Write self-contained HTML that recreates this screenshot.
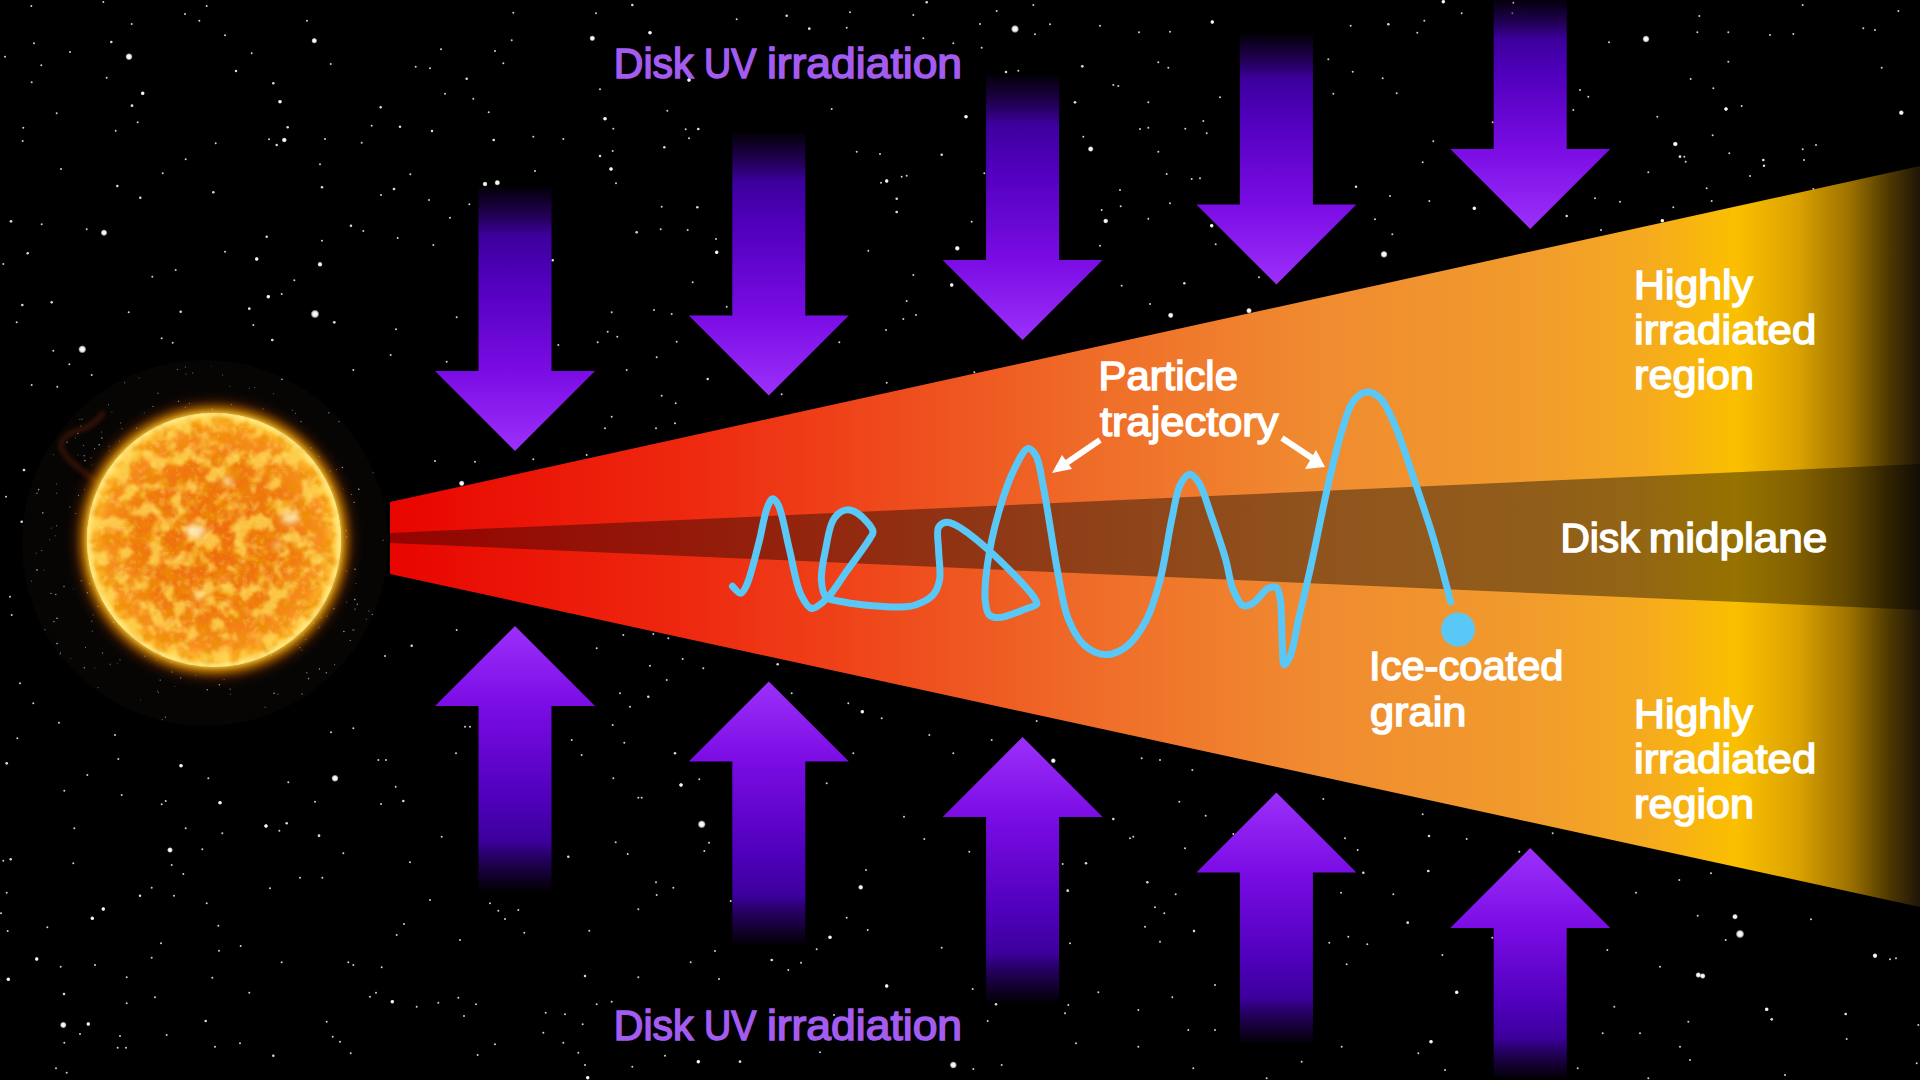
<!DOCTYPE html>
<html><head><meta charset="utf-8"><style>
html,body{margin:0;padding:0;background:#000;width:1920px;height:1080px;overflow:hidden}
svg{display:block}
text{font-family:"Liberation Sans",sans-serif;font-weight:normal}
</style></head><body>
<svg width="1920" height="1080" viewBox="0 0 1920 1080">
<defs>
<linearGradient id="gd0" gradientUnits="userSpaceOnUse" x1="0" y1="188.0" x2="0" y2="451.0">
<stop offset="0.0000" stop-color="#200050" stop-opacity="0.15"/>
<stop offset="0.0626" stop-color="#280064" stop-opacity="0.55"/>
<stop offset="0.1809" stop-color="#3c009c" stop-opacity="1"/>
<stop offset="0.3479" stop-color="#5000bc" stop-opacity="1"/>
<stop offset="0.6958" stop-color="#7a0ce4" stop-opacity="1"/>
<stop offset="1.0000" stop-color="#9c30fa" stop-opacity="1"/>
</linearGradient>
<linearGradient id="gu0" gradientUnits="userSpaceOnUse" x1="0" y1="889.0" x2="0" y2="626.0">
<stop offset="0.0000" stop-color="#200050" stop-opacity="0.15"/>
<stop offset="0.0626" stop-color="#280064" stop-opacity="0.55"/>
<stop offset="0.1809" stop-color="#3c009c" stop-opacity="1"/>
<stop offset="0.3479" stop-color="#5000bc" stop-opacity="1"/>
<stop offset="0.6958" stop-color="#7a0ce4" stop-opacity="1"/>
<stop offset="1.0000" stop-color="#9c30fa" stop-opacity="1"/>
</linearGradient><linearGradient id="gd1" gradientUnits="userSpaceOnUse" x1="0" y1="133.5" x2="0" y2="395.5">
<stop offset="0.0000" stop-color="#200050" stop-opacity="0.15"/>
<stop offset="0.0625" stop-color="#280064" stop-opacity="0.55"/>
<stop offset="0.1806" stop-color="#3c009c" stop-opacity="1"/>
<stop offset="0.3473" stop-color="#5000bc" stop-opacity="1"/>
<stop offset="0.6947" stop-color="#7a0ce4" stop-opacity="1"/>
<stop offset="1.0000" stop-color="#9c30fa" stop-opacity="1"/>
</linearGradient>
<linearGradient id="gu1" gradientUnits="userSpaceOnUse" x1="0" y1="943.5" x2="0" y2="681.5">
<stop offset="0.0000" stop-color="#200050" stop-opacity="0.15"/>
<stop offset="0.0625" stop-color="#280064" stop-opacity="0.55"/>
<stop offset="0.1806" stop-color="#3c009c" stop-opacity="1"/>
<stop offset="0.3473" stop-color="#5000bc" stop-opacity="1"/>
<stop offset="0.6947" stop-color="#7a0ce4" stop-opacity="1"/>
<stop offset="1.0000" stop-color="#9c30fa" stop-opacity="1"/>
</linearGradient><linearGradient id="gd2" gradientUnits="userSpaceOnUse" x1="0" y1="76.0" x2="0" y2="340.0">
<stop offset="0.0000" stop-color="#200050" stop-opacity="0.15"/>
<stop offset="0.0627" stop-color="#280064" stop-opacity="0.55"/>
<stop offset="0.1812" stop-color="#3c009c" stop-opacity="1"/>
<stop offset="0.3485" stop-color="#5000bc" stop-opacity="1"/>
<stop offset="0.6970" stop-color="#7a0ce4" stop-opacity="1"/>
<stop offset="1.0000" stop-color="#9c30fa" stop-opacity="1"/>
</linearGradient>
<linearGradient id="gu2" gradientUnits="userSpaceOnUse" x1="0" y1="1001.0" x2="0" y2="737.0">
<stop offset="0.0000" stop-color="#200050" stop-opacity="0.15"/>
<stop offset="0.0627" stop-color="#280064" stop-opacity="0.55"/>
<stop offset="0.1812" stop-color="#3c009c" stop-opacity="1"/>
<stop offset="0.3485" stop-color="#5000bc" stop-opacity="1"/>
<stop offset="0.6970" stop-color="#7a0ce4" stop-opacity="1"/>
<stop offset="1.0000" stop-color="#9c30fa" stop-opacity="1"/>
</linearGradient><linearGradient id="gd3" gradientUnits="userSpaceOnUse" x1="0" y1="34.5" x2="0" y2="284.5">
<stop offset="0.0000" stop-color="#200050" stop-opacity="0.15"/>
<stop offset="0.0612" stop-color="#280064" stop-opacity="0.55"/>
<stop offset="0.1768" stop-color="#3c009c" stop-opacity="1"/>
<stop offset="0.3400" stop-color="#5000bc" stop-opacity="1"/>
<stop offset="0.6800" stop-color="#7a0ce4" stop-opacity="1"/>
<stop offset="1.0000" stop-color="#9c30fa" stop-opacity="1"/>
</linearGradient>
<linearGradient id="gu3" gradientUnits="userSpaceOnUse" x1="0" y1="1042.5" x2="0" y2="792.5">
<stop offset="0.0000" stop-color="#200050" stop-opacity="0.15"/>
<stop offset="0.0612" stop-color="#280064" stop-opacity="0.55"/>
<stop offset="0.1768" stop-color="#3c009c" stop-opacity="1"/>
<stop offset="0.3400" stop-color="#5000bc" stop-opacity="1"/>
<stop offset="0.6800" stop-color="#7a0ce4" stop-opacity="1"/>
<stop offset="1.0000" stop-color="#9c30fa" stop-opacity="1"/>
</linearGradient><linearGradient id="gd4" gradientUnits="userSpaceOnUse" x1="0" y1="0.0" x2="0" y2="229.0">
<stop offset="0.0000" stop-color="#200050" stop-opacity="0.15"/>
<stop offset="0.0586" stop-color="#280064" stop-opacity="0.55"/>
<stop offset="0.1692" stop-color="#3c009c" stop-opacity="1"/>
<stop offset="0.3253" stop-color="#5000bc" stop-opacity="1"/>
<stop offset="0.6507" stop-color="#7a0ce4" stop-opacity="1"/>
<stop offset="1.0000" stop-color="#9c30fa" stop-opacity="1"/>
</linearGradient>
<linearGradient id="gu4" gradientUnits="userSpaceOnUse" x1="0" y1="1077.0" x2="0" y2="848.0">
<stop offset="0.0000" stop-color="#200050" stop-opacity="0.15"/>
<stop offset="0.0586" stop-color="#280064" stop-opacity="0.55"/>
<stop offset="0.1692" stop-color="#3c009c" stop-opacity="1"/>
<stop offset="0.3253" stop-color="#5000bc" stop-opacity="1"/>
<stop offset="0.6507" stop-color="#7a0ce4" stop-opacity="1"/>
<stop offset="1.0000" stop-color="#9c30fa" stop-opacity="1"/>
</linearGradient>
<radialGradient id="sg"><stop offset="0" stop-color="#fff"/><stop offset="0.5" stop-color="#f0f0f0"/><stop offset="0.7" stop-color="#ddd" stop-opacity="0.8"/><stop offset="1" stop-color="#bbb" stop-opacity="0"/></radialGradient>
<linearGradient id="wg" gradientUnits="userSpaceOnUse" x1="390" y1="0" x2="1920" y2="0">
<stop offset="0" stop-color="#e80500"/>
<stop offset="0.2" stop-color="#ee2a10"/>
<stop offset="0.45" stop-color="#ef6a28"/>
<stop offset="0.6" stop-color="#f08a30"/>
<stop offset="0.75" stop-color="#f19c2c"/>
<stop offset="0.82" stop-color="#f5aa20"/>
<stop offset="0.88" stop-color="#fbbf00"/>
<stop offset="0.92" stop-color="#dba200"/>
<stop offset="0.955" stop-color="#9a7000"/>
<stop offset="0.98" stop-color="#4e3800"/>
<stop offset="1" stop-color="#1e1508"/>
</linearGradient>
<linearGradient id="mg" gradientUnits="userSpaceOnUse" x1="390" y1="0" x2="1920" y2="0">
<stop offset="0" stop-color="#000" stop-opacity="0.36"/>
<stop offset="0.4" stop-color="#000" stop-opacity="0.40"/>
<stop offset="1" stop-color="#000" stop-opacity="0.40"/>
</linearGradient>
<radialGradient id="sung" cx="214" cy="540" r="128" gradientUnits="userSpaceOnUse">
<stop offset="0" stop-color="#ee6c0c"/>
<stop offset="0.6" stop-color="#f07810"/>
<stop offset="0.85" stop-color="#f89020"/>
<stop offset="0.95" stop-color="#ffc030"/>
<stop offset="1" stop-color="#ffe860"/>
</radialGradient>
<radialGradient id="glow" cx="214" cy="540" r="150" gradientUnits="userSpaceOnUse">
<stop offset="0.83" stop-color="#ffe050" stop-opacity="1"/>
<stop offset="0.88" stop-color="#f09000" stop-opacity="0.6"/>
<stop offset="0.94" stop-color="#803000" stop-opacity="0.2"/>
<stop offset="1" stop-color="#200800" stop-opacity="0"/>
</radialGradient>
<filter id="tex" x="0" y="0" width="100%" height="100%">
<feTurbulence type="fractalNoise" baseFrequency="0.06" numOctaves="5" seed="5"/>
<feColorMatrix type="matrix" values="0 0 0 0 1  0 0 0 0 0.72  0 0 0 0 0.10  5 0 0 0 -2.35"/>
<feGaussianBlur stdDeviation="0.9"/>
</filter>
<filter id="tex2" x="0" y="0" width="100%" height="100%">
<feTurbulence type="fractalNoise" baseFrequency="0.09" numOctaves="3" seed="11"/>
<feColorMatrix type="matrix" values="0 0 0 0 0.84  0 0 0 0 0.28  0 0 0 0 0.0  4 0 0 0 -1.7"/>
<feGaussianBlur stdDeviation="0.8"/>
</filter>
<filter id="tex3" x="0" y="0" width="100%" height="100%">
<feTurbulence type="turbulence" baseFrequency="0.12" numOctaves="3" seed="21"/>
<feColorMatrix type="matrix" values="0 0 0 0 1  0 0 0 0 0.85  0 0 0 0 0.35  4 0 0 0 -1.3"/>
</filter>
<filter id="blur3"><feGaussianBlur stdDeviation="3"/></filter><filter id="blur2"><feGaussianBlur stdDeviation="2"/></filter><filter id="blur1"><feGaussianBlur stdDeviation="1"/></filter>
<filter id="blur6"><feGaussianBlur stdDeviation="6"/></filter>
<clipPath id="sunclip"><circle cx="214" cy="540" r="127"/></clipPath>
</defs>
<rect width="1920" height="1080" fill="#000"/>
<circle cx="205" cy="543" r="183" fill="#070503"/>
<circle cx="129.0" cy="56.7" r="3.75" fill="url(#sg)"/>
<circle cx="314.3" cy="40.7" r="3.00" fill="url(#sg)"/>
<circle cx="592.3" cy="38.3" r="3.00" fill="url(#sg)"/>
<circle cx="142.7" cy="93.3" r="2.25" fill="url(#sg)"/>
<circle cx="132.0" cy="105.7" r="1.37" fill="#f4f4f4" opacity="0.9"/>
<circle cx="280.0" cy="101.7" r="2.25" fill="url(#sg)"/>
<circle cx="284.3" cy="140.0" r="2.70" fill="url(#sg)"/>
<circle cx="276.7" cy="145.0" r="1.26" fill="#f4f4f4" opacity="0.9"/>
<circle cx="287.7" cy="127.3" r="1.26" fill="#f4f4f4" opacity="0.9"/>
<circle cx="497.3" cy="182.7" r="3.00" fill="url(#sg)"/>
<circle cx="485.0" cy="184.0" r="2.70" fill="url(#sg)"/>
<circle cx="605.0" cy="118.7" r="2.25" fill="url(#sg)"/>
<circle cx="611.0" cy="169.0" r="2.25" fill="url(#sg)"/>
<circle cx="104.0" cy="232.7" r="3.45" fill="url(#sg)"/>
<circle cx="315.0" cy="314.0" r="4.50" fill="url(#sg)"/>
<circle cx="82.3" cy="349.3" r="4.20" fill="url(#sg)"/>
<circle cx="320.0" cy="264.3" r="2.70" fill="url(#sg)"/>
<circle cx="256.7" cy="259.0" r="2.25" fill="url(#sg)"/>
<circle cx="268.3" cy="296.7" r="2.25" fill="url(#sg)"/>
<circle cx="249.3" cy="308.7" r="1.37" fill="#f4f4f4" opacity="0.9"/>
<circle cx="334.3" cy="322.3" r="1.37" fill="#f4f4f4" opacity="0.9"/>
<circle cx="272.3" cy="340.0" r="1.37" fill="#f4f4f4" opacity="0.9"/>
<circle cx="11.0" cy="221.3" r="1.37" fill="#f4f4f4" opacity="0.9"/>
<circle cx="27.7" cy="253.3" r="1.26" fill="#f4f4f4" opacity="0.9"/>
<circle cx="22.3" cy="305.0" r="1.26" fill="#f4f4f4" opacity="0.9"/>
<circle cx="51.7" cy="302.3" r="1.26" fill="#f4f4f4" opacity="0.9"/>
<circle cx="180.7" cy="311.7" r="1.26" fill="#f4f4f4" opacity="0.9"/>
<circle cx="380.7" cy="107.3" r="1.26" fill="#f4f4f4" opacity="0.9"/>
<circle cx="466.7" cy="78.7" r="1.26" fill="#f4f4f4" opacity="0.9"/>
<circle cx="493.7" cy="140.0" r="1.37" fill="#f4f4f4" opacity="0.9"/>
<circle cx="394.0" cy="189.0" r="1.37" fill="#f4f4f4" opacity="0.9"/>
<circle cx="322.0" cy="187.3" r="1.26" fill="#f4f4f4" opacity="0.9"/>
<circle cx="213.3" cy="192.3" r="1.26" fill="#f4f4f4" opacity="0.9"/>
<circle cx="140.3" cy="197.7" r="1.26" fill="#f4f4f4" opacity="0.9"/>
<circle cx="117.3" cy="186.0" r="1.26" fill="#f4f4f4" opacity="0.9"/>
<circle cx="432.0" cy="131.0" r="1.26" fill="#f4f4f4" opacity="0.9"/>
<circle cx="400.0" cy="126.7" r="1.26" fill="#f4f4f4" opacity="0.9"/>
<circle cx="273.3" cy="83.3" r="1.26" fill="#f4f4f4" opacity="0.9"/>
<circle cx="236.0" cy="71.0" r="1.26" fill="#f4f4f4" opacity="0.9"/>
<circle cx="111.3" cy="42.0" r="1.26" fill="#f4f4f4" opacity="0.9"/>
<circle cx="31.3" cy="6.0" r="1" fill="#f4f4f4" opacity="0.85"/>
<circle cx="103.3" cy="2.0" r="1" fill="#f4f4f4" opacity="0.85"/>
<circle cx="131.7" cy="24.0" r="1" fill="#f4f4f4" opacity="0.85"/>
<circle cx="185.0" cy="14.0" r="1" fill="#f4f4f4" opacity="0.85"/>
<circle cx="206.7" cy="6.0" r="1" fill="#f4f4f4" opacity="0.85"/>
<circle cx="199.3" cy="20.7" r="1" fill="#f4f4f4" opacity="0.85"/>
<circle cx="225.0" cy="35.3" r="1" fill="#f4f4f4" opacity="0.85"/>
<circle cx="251.7" cy="53.3" r="1" fill="#f4f4f4" opacity="0.85"/>
<circle cx="307.0" cy="20.7" r="1" fill="#f4f4f4" opacity="0.85"/>
<circle cx="330.7" cy="64.0" r="1" fill="#f4f4f4" opacity="0.85"/>
<circle cx="415.7" cy="66.7" r="1" fill="#f4f4f4" opacity="0.85"/>
<circle cx="430.0" cy="68.3" r="1" fill="#f4f4f4" opacity="0.85"/>
<circle cx="441.0" cy="49.3" r="1" fill="#f4f4f4" opacity="0.85"/>
<circle cx="495.0" cy="51.0" r="1" fill="#f4f4f4" opacity="0.85"/>
<circle cx="511.7" cy="40.3" r="1" fill="#f4f4f4" opacity="0.85"/>
<circle cx="513.3" cy="12.7" r="1" fill="#f4f4f4" opacity="0.85"/>
<circle cx="596.0" cy="13.3" r="1" fill="#f4f4f4" opacity="0.85"/>
<circle cx="632.3" cy="5.0" r="1.26" fill="#f4f4f4" opacity="0.9"/>
<circle cx="473.3" cy="98.7" r="1" fill="#f4f4f4" opacity="0.85"/>
<circle cx="445.0" cy="93.7" r="1" fill="#f4f4f4" opacity="0.85"/>
<circle cx="488.7" cy="112.3" r="1" fill="#f4f4f4" opacity="0.85"/>
<circle cx="533.3" cy="136.7" r="1" fill="#f4f4f4" opacity="0.85"/>
<circle cx="563.3" cy="139.0" r="1" fill="#f4f4f4" opacity="0.85"/>
<circle cx="600.0" cy="89.3" r="1" fill="#f4f4f4" opacity="0.85"/>
<circle cx="600.0" cy="156.0" r="1.26" fill="#f4f4f4" opacity="0.9"/>
<circle cx="613.3" cy="128.7" r="1" fill="#f4f4f4" opacity="0.85"/>
<circle cx="552.7" cy="260.3" r="1.26" fill="#f4f4f4" opacity="0.9"/>
<circle cx="636.7" cy="232.3" r="1.26" fill="#f4f4f4" opacity="0.9"/>
<circle cx="450.0" cy="217.7" r="1" fill="#f4f4f4" opacity="0.85"/>
<circle cx="429.0" cy="200.0" r="1" fill="#f4f4f4" opacity="0.85"/>
<circle cx="410.3" cy="174.3" r="1" fill="#f4f4f4" opacity="0.85"/>
<circle cx="351.0" cy="225.7" r="1.26" fill="#f4f4f4" opacity="0.9"/>
<circle cx="363.3" cy="231.0" r="1" fill="#f4f4f4" opacity="0.85"/>
<circle cx="361.7" cy="142.7" r="1" fill="#f4f4f4" opacity="0.85"/>
<circle cx="325.0" cy="139.0" r="1" fill="#f4f4f4" opacity="0.85"/>
<circle cx="320.0" cy="164.3" r="1" fill="#f4f4f4" opacity="0.85"/>
<circle cx="266.7" cy="236.7" r="1.26" fill="#f4f4f4" opacity="0.9"/>
<circle cx="225.0" cy="251.7" r="1" fill="#f4f4f4" opacity="0.85"/>
<circle cx="175.7" cy="270.0" r="1" fill="#f4f4f4" opacity="0.85"/>
<circle cx="152.3" cy="276.7" r="1" fill="#f4f4f4" opacity="0.85"/>
<circle cx="128.7" cy="312.3" r="1" fill="#f4f4f4" opacity="0.85"/>
<circle cx="161.7" cy="338.3" r="1" fill="#f4f4f4" opacity="0.85"/>
<circle cx="172.7" cy="342.7" r="1" fill="#f4f4f4" opacity="0.85"/>
<circle cx="53.3" cy="350.7" r="1" fill="#f4f4f4" opacity="0.85"/>
<circle cx="16.7" cy="322.3" r="1" fill="#f4f4f4" opacity="0.85"/>
<circle cx="3.3" cy="264.0" r="1" fill="#f4f4f4" opacity="0.85"/>
<circle cx="41.7" cy="224.3" r="1" fill="#f4f4f4" opacity="0.85"/>
<circle cx="86.7" cy="229.3" r="1" fill="#f4f4f4" opacity="0.85"/>
<circle cx="61.0" cy="169.0" r="1" fill="#f4f4f4" opacity="0.85"/>
<circle cx="56.7" cy="113.3" r="1" fill="#f4f4f4" opacity="0.85"/>
<circle cx="23.3" cy="127.7" r="1" fill="#f4f4f4" opacity="0.85"/>
<circle cx="22.7" cy="141.0" r="1" fill="#f4f4f4" opacity="0.85"/>
<circle cx="31.7" cy="82.3" r="1" fill="#f4f4f4" opacity="0.85"/>
<circle cx="41.3" cy="65.3" r="1" fill="#f4f4f4" opacity="0.85"/>
<circle cx="5.0" cy="56.7" r="1" fill="#f4f4f4" opacity="0.85"/>
<circle cx="34.0" cy="43.3" r="1" fill="#f4f4f4" opacity="0.85"/>
<circle cx="70.0" cy="52.0" r="1" fill="#f4f4f4" opacity="0.85"/>
<circle cx="106.7" cy="77.7" r="1" fill="#f4f4f4" opacity="0.85"/>
<circle cx="115.7" cy="130.7" r="1" fill="#f4f4f4" opacity="0.85"/>
<circle cx="137.7" cy="122.3" r="1" fill="#f4f4f4" opacity="0.85"/>
<circle cx="162.7" cy="173.3" r="1" fill="#f4f4f4" opacity="0.85"/>
<circle cx="185.7" cy="159.3" r="1" fill="#f4f4f4" opacity="0.85"/>
<circle cx="215.7" cy="143.3" r="1" fill="#f4f4f4" opacity="0.85"/>
<circle cx="269.0" cy="139.3" r="1" fill="#f4f4f4" opacity="0.85"/>
<circle cx="371.7" cy="125.7" r="1" fill="#f4f4f4" opacity="0.85"/>
<circle cx="381.0" cy="195.0" r="1" fill="#f4f4f4" opacity="0.85"/>
<circle cx="397.7" cy="238.0" r="1" fill="#f4f4f4" opacity="0.85"/>
<circle cx="433.3" cy="245.0" r="1" fill="#f4f4f4" opacity="0.85"/>
<circle cx="322.0" cy="240.7" r="1" fill="#f4f4f4" opacity="0.85"/>
<circle cx="294.3" cy="280.3" r="1" fill="#f4f4f4" opacity="0.85"/>
<circle cx="281.7" cy="294.0" r="1" fill="#f4f4f4" opacity="0.85"/>
<circle cx="253.3" cy="325.0" r="1" fill="#f4f4f4" opacity="0.85"/>
<circle cx="396.0" cy="329.3" r="1" fill="#f4f4f4" opacity="0.85"/>
<circle cx="390.7" cy="355.0" r="1" fill="#f4f4f4" opacity="0.85"/>
<circle cx="456.7" cy="317.3" r="1" fill="#f4f4f4" opacity="0.85"/>
<circle cx="558.3" cy="345.0" r="1" fill="#f4f4f4" opacity="0.85"/>
<circle cx="597.7" cy="342.3" r="1" fill="#f4f4f4" opacity="0.85"/>
<circle cx="617.3" cy="336.7" r="1" fill="#f4f4f4" opacity="0.85"/>
<circle cx="607.7" cy="331.7" r="1" fill="#f4f4f4" opacity="0.85"/>
<circle cx="611.7" cy="312.3" r="1" fill="#f4f4f4" opacity="0.85"/>
<circle cx="616.0" cy="183.3" r="1" fill="#f4f4f4" opacity="0.85"/>
<circle cx="612.7" cy="151.0" r="1" fill="#f4f4f4" opacity="0.85"/>
<circle cx="535.0" cy="171.0" r="1" fill="#f4f4f4" opacity="0.85"/>
<circle cx="503.3" cy="63.3" r="1" fill="#f4f4f4" opacity="0.85"/>
<circle cx="469.3" cy="204.3" r="1" fill="#f4f4f4" opacity="0.85"/>
<circle cx="1015.0" cy="29.0" r="4.20" fill="url(#sg)"/>
<circle cx="650.0" cy="32.7" r="2.25" fill="url(#sg)"/>
<circle cx="809.3" cy="28.7" r="1.37" fill="#f4f4f4" opacity="0.9"/>
<circle cx="786.7" cy="15.7" r="1.26" fill="#f4f4f4" opacity="0.9"/>
<circle cx="966.0" cy="116.7" r="2.25" fill="url(#sg)"/>
<circle cx="1090.7" cy="149.0" r="3.00" fill="url(#sg)"/>
<circle cx="1105.7" cy="221.0" r="2.70" fill="url(#sg)"/>
<circle cx="957.3" cy="248.3" r="2.70" fill="url(#sg)"/>
<circle cx="886.7" cy="181.0" r="2.25" fill="url(#sg)"/>
<circle cx="896.7" cy="212.0" r="1.37" fill="#f4f4f4" opacity="0.9"/>
<circle cx="896.7" cy="198.7" r="1.26" fill="#f4f4f4" opacity="0.9"/>
<circle cx="716.7" cy="252.3" r="2.25" fill="url(#sg)"/>
<circle cx="698.3" cy="129.0" r="1.37" fill="#f4f4f4" opacity="0.9"/>
<circle cx="664.3" cy="147.3" r="1.26" fill="#f4f4f4" opacity="0.9"/>
<circle cx="685.7" cy="129.3" r="1" fill="#f4f4f4" opacity="0.85"/>
<circle cx="689.0" cy="138.3" r="1" fill="#f4f4f4" opacity="0.85"/>
<circle cx="667.3" cy="110.7" r="1" fill="#f4f4f4" opacity="0.85"/>
<circle cx="689.0" cy="80.0" r="2.25" fill="url(#sg)"/>
<circle cx="1006.0" cy="72.0" r="1.26" fill="#f4f4f4" opacity="0.9"/>
<circle cx="1082.3" cy="66.3" r="1.37" fill="#f4f4f4" opacity="0.9"/>
<circle cx="1075.0" cy="102.3" r="1.37" fill="#f4f4f4" opacity="0.9"/>
<circle cx="1211.7" cy="225.7" r="2.25" fill="url(#sg)"/>
<circle cx="1212.3" cy="22.0" r="2.25" fill="url(#sg)"/>
<circle cx="1170.7" cy="315.3" r="3.00" fill="url(#sg)"/>
<circle cx="1249.0" cy="310.7" r="3.00" fill="url(#sg)"/>
<circle cx="951.7" cy="285.0" r="2.25" fill="url(#sg)"/>
<circle cx="941.7" cy="154.7" r="1.26" fill="#f4f4f4" opacity="0.9"/>
<circle cx="926.7" cy="2.3" r="1.26" fill="#f4f4f4" opacity="0.9"/>
<circle cx="1184.3" cy="283.3" r="1.26" fill="#f4f4f4" opacity="0.9"/>
<circle cx="1150.0" cy="304.0" r="1" fill="#f4f4f4" opacity="0.85"/>
<circle cx="1121.7" cy="285.7" r="1" fill="#f4f4f4" opacity="0.85"/>
<circle cx="1100.0" cy="245.7" r="1" fill="#f4f4f4" opacity="0.85"/>
<circle cx="1120.7" cy="206.3" r="1" fill="#f4f4f4" opacity="0.85"/>
<circle cx="1148.3" cy="218.7" r="1" fill="#f4f4f4" opacity="0.85"/>
<circle cx="1185.3" cy="128.7" r="1" fill="#f4f4f4" opacity="0.85"/>
<circle cx="1203.3" cy="121.0" r="1" fill="#f4f4f4" opacity="0.85"/>
<circle cx="1206.7" cy="133.3" r="1" fill="#f4f4f4" opacity="0.85"/>
<circle cx="1220.0" cy="97.3" r="1" fill="#f4f4f4" opacity="0.85"/>
<circle cx="1200.0" cy="178.3" r="1" fill="#f4f4f4" opacity="0.85"/>
<circle cx="1148.3" cy="102.3" r="1" fill="#f4f4f4" opacity="0.85"/>
<circle cx="1170.0" cy="31.7" r="1" fill="#f4f4f4" opacity="0.85"/>
<circle cx="1139.0" cy="32.3" r="1" fill="#f4f4f4" opacity="0.85"/>
<circle cx="1100.0" cy="25.7" r="1" fill="#f4f4f4" opacity="0.85"/>
<circle cx="1050.0" cy="24.3" r="1" fill="#f4f4f4" opacity="0.85"/>
<circle cx="1035.0" cy="34.3" r="1" fill="#f4f4f4" opacity="0.85"/>
<circle cx="980.0" cy="24.0" r="1" fill="#f4f4f4" opacity="0.85"/>
<circle cx="996.7" cy="11.0" r="1" fill="#f4f4f4" opacity="0.85"/>
<circle cx="1033.3" cy="5.0" r="1" fill="#f4f4f4" opacity="0.85"/>
<circle cx="923.3" cy="38.3" r="1" fill="#f4f4f4" opacity="0.85"/>
<circle cx="953.3" cy="43.3" r="1" fill="#f4f4f4" opacity="0.85"/>
<circle cx="981.7" cy="47.7" r="1" fill="#f4f4f4" opacity="0.85"/>
<circle cx="1018.3" cy="70.7" r="1" fill="#f4f4f4" opacity="0.85"/>
<circle cx="1158.3" cy="62.3" r="1" fill="#f4f4f4" opacity="0.85"/>
<circle cx="1168.3" cy="67.7" r="1" fill="#f4f4f4" opacity="0.85"/>
<circle cx="1140.0" cy="129.0" r="1" fill="#f4f4f4" opacity="0.85"/>
<circle cx="1148.3" cy="127.7" r="1" fill="#f4f4f4" opacity="0.85"/>
<circle cx="1158.3" cy="151.7" r="1" fill="#f4f4f4" opacity="0.85"/>
<circle cx="913.3" cy="15.0" r="1" fill="#f4f4f4" opacity="0.85"/>
<circle cx="850.0" cy="12.3" r="1" fill="#f4f4f4" opacity="0.85"/>
<circle cx="846.7" cy="27.7" r="1" fill="#f4f4f4" opacity="0.85"/>
<circle cx="736.7" cy="19.3" r="1" fill="#f4f4f4" opacity="0.85"/>
<circle cx="831.7" cy="109.0" r="1" fill="#f4f4f4" opacity="0.85"/>
<circle cx="880.0" cy="154.0" r="1" fill="#f4f4f4" opacity="0.85"/>
<circle cx="856.7" cy="151.7" r="1" fill="#f4f4f4" opacity="0.85"/>
<circle cx="906.7" cy="175.7" r="1" fill="#f4f4f4" opacity="0.85"/>
<circle cx="901.7" cy="176.7" r="1" fill="#f4f4f4" opacity="0.85"/>
<circle cx="881.0" cy="182.7" r="1" fill="#f4f4f4" opacity="0.85"/>
<circle cx="971.7" cy="221.7" r="1" fill="#f4f4f4" opacity="0.85"/>
<circle cx="984.3" cy="173.3" r="1" fill="#f4f4f4" opacity="0.85"/>
<circle cx="868.3" cy="250.7" r="1" fill="#f4f4f4" opacity="0.85"/>
<circle cx="913.3" cy="275.0" r="1" fill="#f4f4f4" opacity="0.85"/>
<circle cx="906.7" cy="301.0" r="1" fill="#f4f4f4" opacity="0.85"/>
<circle cx="916.0" cy="315.0" r="1" fill="#f4f4f4" opacity="0.85"/>
<circle cx="903.3" cy="319.0" r="1" fill="#f4f4f4" opacity="0.85"/>
<circle cx="886.0" cy="330.0" r="1" fill="#f4f4f4" opacity="0.85"/>
<circle cx="839.3" cy="342.3" r="1" fill="#f4f4f4" opacity="0.85"/>
<circle cx="1101.7" cy="210.0" r="1" fill="#f4f4f4" opacity="0.85"/>
<circle cx="1056.7" cy="146.7" r="1" fill="#f4f4f4" opacity="0.85"/>
<circle cx="1120.0" cy="190.0" r="1" fill="#f4f4f4" opacity="0.85"/>
<circle cx="1166.7" cy="174.0" r="1" fill="#f4f4f4" opacity="0.85"/>
<circle cx="1170.0" cy="203.3" r="1" fill="#f4f4f4" opacity="0.85"/>
<circle cx="1113.3" cy="85.0" r="1" fill="#f4f4f4" opacity="0.85"/>
<circle cx="1118.3" cy="86.0" r="1" fill="#f4f4f4" opacity="0.85"/>
<circle cx="1083.3" cy="136.7" r="1" fill="#f4f4f4" opacity="0.85"/>
<circle cx="1259.0" cy="277.3" r="1" fill="#f4f4f4" opacity="0.85"/>
<circle cx="1263.3" cy="267.3" r="1" fill="#f4f4f4" opacity="0.85"/>
<circle cx="1191.7" cy="179.0" r="1" fill="#f4f4f4" opacity="0.85"/>
<circle cx="1215.7" cy="244.3" r="1" fill="#f4f4f4" opacity="0.85"/>
<circle cx="1256.7" cy="76.7" r="1" fill="#f4f4f4" opacity="0.85"/>
<circle cx="697.3" cy="207.3" r="1.26" fill="#f4f4f4" opacity="0.9"/>
<circle cx="661.7" cy="206.7" r="1" fill="#f4f4f4" opacity="0.85"/>
<circle cx="660.7" cy="229.3" r="1" fill="#f4f4f4" opacity="0.85"/>
<circle cx="687.7" cy="230.0" r="1" fill="#f4f4f4" opacity="0.85"/>
<circle cx="716.0" cy="239.0" r="1" fill="#f4f4f4" opacity="0.85"/>
<circle cx="692.7" cy="282.3" r="1" fill="#f4f4f4" opacity="0.85"/>
<circle cx="654.0" cy="310.0" r="1" fill="#f4f4f4" opacity="0.85"/>
<circle cx="671.7" cy="314.0" r="1" fill="#f4f4f4" opacity="0.85"/>
<circle cx="726.7" cy="306.7" r="1" fill="#f4f4f4" opacity="0.85"/>
<circle cx="656.7" cy="357.3" r="1" fill="#f4f4f4" opacity="0.85"/>
<circle cx="676.7" cy="341.7" r="1" fill="#f4f4f4" opacity="0.85"/>
<circle cx="1646.0" cy="39.0" r="3.75" fill="url(#sg)"/>
<circle cx="1384.0" cy="254.3" r="3.75" fill="url(#sg)"/>
<circle cx="1901.3" cy="112.7" r="2.70" fill="url(#sg)"/>
<circle cx="1675.3" cy="144.0" r="2.70" fill="url(#sg)"/>
<circle cx="1474.3" cy="208.3" r="2.25" fill="url(#sg)"/>
<circle cx="1726.0" cy="109.0" r="2.25" fill="url(#sg)"/>
<circle cx="1680.0" cy="156.7" r="1.37" fill="#f4f4f4" opacity="0.9"/>
<circle cx="1763.3" cy="160.0" r="1.37" fill="#f4f4f4" opacity="0.9"/>
<circle cx="1764.0" cy="165.7" r="1.26" fill="#f4f4f4" opacity="0.9"/>
<circle cx="1662.3" cy="220.7" r="2.25" fill="url(#sg)"/>
<circle cx="1566.7" cy="216.0" r="1.26" fill="#f4f4f4" opacity="0.9"/>
<circle cx="1443.3" cy="1.7" r="2.25" fill="url(#sg)"/>
<circle cx="1388.3" cy="24.3" r="1.26" fill="#f4f4f4" opacity="0.9"/>
<circle cx="1424.3" cy="20.7" r="1" fill="#f4f4f4" opacity="0.85"/>
<circle cx="1417.3" cy="32.7" r="1" fill="#f4f4f4" opacity="0.85"/>
<circle cx="1350.7" cy="25.7" r="1" fill="#f4f4f4" opacity="0.85"/>
<circle cx="1328.3" cy="59.3" r="1" fill="#f4f4f4" opacity="0.85"/>
<circle cx="1352.7" cy="71.7" r="1" fill="#f4f4f4" opacity="0.85"/>
<circle cx="1382.7" cy="78.3" r="1" fill="#f4f4f4" opacity="0.85"/>
<circle cx="1333.3" cy="93.7" r="1" fill="#f4f4f4" opacity="0.85"/>
<circle cx="1396.7" cy="93.3" r="1" fill="#f4f4f4" opacity="0.85"/>
<circle cx="1461.7" cy="13.3" r="1" fill="#f4f4f4" opacity="0.85"/>
<circle cx="1513.3" cy="2.7" r="1" fill="#f4f4f4" opacity="0.85"/>
<circle cx="1512.3" cy="13.3" r="1" fill="#f4f4f4" opacity="0.85"/>
<circle cx="1492.7" cy="122.3" r="1" fill="#f4f4f4" opacity="0.85"/>
<circle cx="1433.3" cy="141.3" r="1" fill="#f4f4f4" opacity="0.85"/>
<circle cx="1422.7" cy="162.3" r="1" fill="#f4f4f4" opacity="0.85"/>
<circle cx="1356.0" cy="186.7" r="1.26" fill="#f4f4f4" opacity="0.9"/>
<circle cx="1390.0" cy="196.0" r="1" fill="#f4f4f4" opacity="0.85"/>
<circle cx="1375.0" cy="219.3" r="1" fill="#f4f4f4" opacity="0.85"/>
<circle cx="1392.3" cy="234.3" r="1" fill="#f4f4f4" opacity="0.85"/>
<circle cx="1429.3" cy="201.0" r="1" fill="#f4f4f4" opacity="0.85"/>
<circle cx="1573.3" cy="110.0" r="1" fill="#f4f4f4" opacity="0.85"/>
<circle cx="1580.0" cy="90.0" r="1" fill="#f4f4f4" opacity="0.85"/>
<circle cx="1588.3" cy="96.7" r="1" fill="#f4f4f4" opacity="0.85"/>
<circle cx="1609.0" cy="42.3" r="1" fill="#f4f4f4" opacity="0.85"/>
<circle cx="1699.3" cy="16.0" r="1" fill="#f4f4f4" opacity="0.85"/>
<circle cx="1697.3" cy="32.3" r="1" fill="#f4f4f4" opacity="0.85"/>
<circle cx="1728.3" cy="32.3" r="1" fill="#f4f4f4" opacity="0.85"/>
<circle cx="1770.0" cy="35.0" r="1" fill="#f4f4f4" opacity="0.85"/>
<circle cx="1793.3" cy="34.0" r="1" fill="#f4f4f4" opacity="0.85"/>
<circle cx="1802.7" cy="5.0" r="1" fill="#f4f4f4" opacity="0.85"/>
<circle cx="1863.3" cy="28.3" r="1" fill="#f4f4f4" opacity="0.85"/>
<circle cx="1875.0" cy="30.0" r="1" fill="#f4f4f4" opacity="0.85"/>
<circle cx="1898.3" cy="11.0" r="1" fill="#f4f4f4" opacity="0.85"/>
<circle cx="1881.7" cy="67.7" r="1" fill="#f4f4f4" opacity="0.85"/>
<circle cx="1728.3" cy="61.7" r="1" fill="#f4f4f4" opacity="0.85"/>
<circle cx="1690.7" cy="79.0" r="1" fill="#f4f4f4" opacity="0.85"/>
<circle cx="1713.3" cy="88.3" r="1" fill="#f4f4f4" opacity="0.85"/>
<circle cx="1657.3" cy="116.7" r="1" fill="#f4f4f4" opacity="0.85"/>
<circle cx="1741.7" cy="106.0" r="1" fill="#f4f4f4" opacity="0.85"/>
<circle cx="1712.7" cy="135.3" r="1" fill="#f4f4f4" opacity="0.85"/>
<circle cx="1729.3" cy="153.3" r="1" fill="#f4f4f4" opacity="0.85"/>
<circle cx="1750.0" cy="176.0" r="1" fill="#f4f4f4" opacity="0.85"/>
<circle cx="1802.7" cy="149.3" r="1" fill="#f4f4f4" opacity="0.85"/>
<circle cx="1816.0" cy="145.0" r="1" fill="#f4f4f4" opacity="0.85"/>
<circle cx="1804.0" cy="160.0" r="1" fill="#f4f4f4" opacity="0.85"/>
<circle cx="1648.3" cy="172.3" r="1" fill="#f4f4f4" opacity="0.85"/>
<circle cx="1706.7" cy="188.3" r="1" fill="#f4f4f4" opacity="0.85"/>
<circle cx="1711.7" cy="201.0" r="1" fill="#f4f4f4" opacity="0.85"/>
<circle cx="1673.3" cy="207.3" r="1" fill="#f4f4f4" opacity="0.85"/>
<circle cx="1813.3" cy="189.0" r="1" fill="#f4f4f4" opacity="0.85"/>
<circle cx="1620.0" cy="201.7" r="1" fill="#f4f4f4" opacity="0.85"/>
<circle cx="1595.0" cy="198.3" r="1" fill="#f4f4f4" opacity="0.85"/>
<circle cx="1601.0" cy="230.0" r="1" fill="#f4f4f4" opacity="0.85"/>
<circle cx="1685.7" cy="161.7" r="1" fill="#f4f4f4" opacity="0.85"/>
<circle cx="1684.3" cy="156.7" r="1" fill="#f4f4f4" opacity="0.85"/>
<circle cx="461.7" cy="483.3" r="3.00" fill="url(#sg)"/>
<circle cx="24.0" cy="470.0" r="1.37" fill="#f4f4f4" opacity="0.9"/>
<circle cx="21.7" cy="521.7" r="1.26" fill="#f4f4f4" opacity="0.9"/>
<circle cx="10.0" cy="596.7" r="1" fill="#f4f4f4" opacity="0.85"/>
<circle cx="6.0" cy="496.7" r="1" fill="#f4f4f4" opacity="0.85"/>
<circle cx="11.7" cy="615.0" r="1" fill="#f4f4f4" opacity="0.85"/>
<circle cx="31.7" cy="385.0" r="1" fill="#f4f4f4" opacity="0.85"/>
<circle cx="57.3" cy="386.7" r="1" fill="#f4f4f4" opacity="0.85"/>
<circle cx="69.3" cy="364.3" r="1" fill="#f4f4f4" opacity="0.85"/>
<circle cx="91.7" cy="375.0" r="1" fill="#f4f4f4" opacity="0.85"/>
<circle cx="353.3" cy="370.0" r="1" fill="#f4f4f4" opacity="0.85"/>
<circle cx="411.7" cy="645.7" r="1.26" fill="#f4f4f4" opacity="0.9"/>
<circle cx="385.0" cy="656.0" r="1" fill="#f4f4f4" opacity="0.85"/>
<circle cx="456.7" cy="630.0" r="1" fill="#f4f4f4" opacity="0.85"/>
<circle cx="605.0" cy="428.3" r="1" fill="#f4f4f4" opacity="0.85"/>
<circle cx="611.7" cy="416.7" r="1" fill="#f4f4f4" opacity="0.85"/>
<circle cx="586.7" cy="455.0" r="1" fill="#f4f4f4" opacity="0.85"/>
<circle cx="533.3" cy="459.3" r="1" fill="#f4f4f4" opacity="0.85"/>
<circle cx="435.0" cy="461.0" r="1" fill="#f4f4f4" opacity="0.85"/>
<circle cx="475.0" cy="461.7" r="1" fill="#f4f4f4" opacity="0.85"/>
<circle cx="623.3" cy="635.0" r="1" fill="#f4f4f4" opacity="0.85"/>
<circle cx="596.7" cy="648.3" r="1" fill="#f4f4f4" opacity="0.85"/>
<circle cx="630.0" cy="706.7" r="1" fill="#f4f4f4" opacity="0.85"/>
<circle cx="533.3" cy="710.0" r="1" fill="#f4f4f4" opacity="0.85"/>
<circle cx="620.0" cy="693.3" r="1" fill="#f4f4f4" opacity="0.85"/>
<circle cx="33.3" cy="703.3" r="1" fill="#f4f4f4" opacity="0.85"/>
<circle cx="20.0" cy="683.3" r="1" fill="#f4f4f4" opacity="0.85"/>
<circle cx="626.7" cy="370.0" r="1" fill="#f4f4f4" opacity="0.85"/>
<circle cx="446.7" cy="361.7" r="1" fill="#f4f4f4" opacity="0.85"/>
<circle cx="335.0" cy="778.3" r="3.75" fill="url(#sg)"/>
<circle cx="170.0" cy="850.0" r="3.00" fill="url(#sg)"/>
<circle cx="63.3" cy="1025.0" r="3.45" fill="url(#sg)"/>
<circle cx="220.0" cy="802.7" r="2.25" fill="url(#sg)"/>
<circle cx="181.0" cy="765.7" r="2.25" fill="url(#sg)"/>
<circle cx="266.0" cy="826.0" r="2.25" fill="url(#sg)"/>
<circle cx="286.7" cy="823.3" r="1.26" fill="#f4f4f4" opacity="0.9"/>
<circle cx="319.0" cy="835.7" r="1.37" fill="#f4f4f4" opacity="0.9"/>
<circle cx="6.7" cy="763.3" r="1.37" fill="#f4f4f4" opacity="0.9"/>
<circle cx="10.7" cy="859.3" r="1.26" fill="#f4f4f4" opacity="0.9"/>
<circle cx="3.3" cy="860.7" r="1" fill="#f4f4f4" opacity="0.85"/>
<circle cx="6.7" cy="892.7" r="1" fill="#f4f4f4" opacity="0.85"/>
<circle cx="103.3" cy="909.0" r="2.25" fill="url(#sg)"/>
<circle cx="92.3" cy="918.3" r="2.25" fill="url(#sg)"/>
<circle cx="140.0" cy="895.7" r="1.26" fill="#f4f4f4" opacity="0.9"/>
<circle cx="36.7" cy="959.0" r="2.25" fill="url(#sg)"/>
<circle cx="8.3" cy="979.3" r="2.25" fill="url(#sg)"/>
<circle cx="88.3" cy="1024.0" r="2.25" fill="url(#sg)"/>
<circle cx="64.0" cy="994.0" r="1.26" fill="#f4f4f4" opacity="0.9"/>
<circle cx="392.3" cy="1001.7" r="2.25" fill="url(#sg)"/>
<circle cx="403.3" cy="801.0" r="1.26" fill="#f4f4f4" opacity="0.9"/>
<circle cx="410.0" cy="862.3" r="1" fill="#f4f4f4" opacity="0.85"/>
<circle cx="343.3" cy="853.3" r="1" fill="#f4f4f4" opacity="0.85"/>
<circle cx="441.7" cy="836.7" r="1" fill="#f4f4f4" opacity="0.85"/>
<circle cx="456.0" cy="753.3" r="1" fill="#f4f4f4" opacity="0.85"/>
<circle cx="465.0" cy="726.7" r="1" fill="#f4f4f4" opacity="0.85"/>
<circle cx="470.0" cy="726.7" r="1" fill="#f4f4f4" opacity="0.85"/>
<circle cx="353.3" cy="728.3" r="1" fill="#f4f4f4" opacity="0.85"/>
<circle cx="331.0" cy="732.3" r="1" fill="#f4f4f4" opacity="0.85"/>
<circle cx="378.3" cy="760.0" r="1" fill="#f4f4f4" opacity="0.85"/>
<circle cx="386.0" cy="760.0" r="1" fill="#f4f4f4" opacity="0.85"/>
<circle cx="395.7" cy="786.7" r="1" fill="#f4f4f4" opacity="0.85"/>
<circle cx="315.0" cy="801.7" r="1" fill="#f4f4f4" opacity="0.85"/>
<circle cx="288.3" cy="782.3" r="1" fill="#f4f4f4" opacity="0.85"/>
<circle cx="279.3" cy="830.7" r="1" fill="#f4f4f4" opacity="0.85"/>
<circle cx="222.3" cy="833.3" r="1" fill="#f4f4f4" opacity="0.85"/>
<circle cx="185.7" cy="828.3" r="1" fill="#f4f4f4" opacity="0.85"/>
<circle cx="202.3" cy="849.3" r="1" fill="#f4f4f4" opacity="0.85"/>
<circle cx="171.7" cy="865.0" r="1" fill="#f4f4f4" opacity="0.85"/>
<circle cx="183.3" cy="874.0" r="1" fill="#f4f4f4" opacity="0.85"/>
<circle cx="74.3" cy="828.3" r="1" fill="#f4f4f4" opacity="0.85"/>
<circle cx="73.3" cy="863.3" r="1" fill="#f4f4f4" opacity="0.85"/>
<circle cx="64.3" cy="790.7" r="1" fill="#f4f4f4" opacity="0.85"/>
<circle cx="87.3" cy="775.0" r="1" fill="#f4f4f4" opacity="0.85"/>
<circle cx="121.7" cy="795.0" r="1" fill="#f4f4f4" opacity="0.85"/>
<circle cx="118.3" cy="759.0" r="1" fill="#f4f4f4" opacity="0.85"/>
<circle cx="115.0" cy="735.0" r="1" fill="#f4f4f4" opacity="0.85"/>
<circle cx="17.3" cy="738.3" r="1" fill="#f4f4f4" opacity="0.85"/>
<circle cx="59.0" cy="722.7" r="1" fill="#f4f4f4" opacity="0.85"/>
<circle cx="208.3" cy="778.3" r="1" fill="#f4f4f4" opacity="0.85"/>
<circle cx="165.7" cy="801.0" r="1" fill="#f4f4f4" opacity="0.85"/>
<circle cx="161.7" cy="804.3" r="1" fill="#f4f4f4" opacity="0.85"/>
<circle cx="300.0" cy="877.7" r="1" fill="#f4f4f4" opacity="0.85"/>
<circle cx="322.3" cy="877.7" r="1" fill="#f4f4f4" opacity="0.85"/>
<circle cx="270.0" cy="888.3" r="1" fill="#f4f4f4" opacity="0.85"/>
<circle cx="174.0" cy="895.7" r="1" fill="#f4f4f4" opacity="0.85"/>
<circle cx="151.7" cy="887.7" r="1" fill="#f4f4f4" opacity="0.85"/>
<circle cx="206.7" cy="903.3" r="1" fill="#f4f4f4" opacity="0.85"/>
<circle cx="218.3" cy="925.7" r="1" fill="#f4f4f4" opacity="0.85"/>
<circle cx="430.0" cy="900.0" r="1" fill="#f4f4f4" opacity="0.85"/>
<circle cx="404.0" cy="924.0" r="1" fill="#f4f4f4" opacity="0.85"/>
<circle cx="396.7" cy="935.0" r="1" fill="#f4f4f4" opacity="0.85"/>
<circle cx="460.0" cy="940.0" r="1" fill="#f4f4f4" opacity="0.85"/>
<circle cx="490.0" cy="903.3" r="1" fill="#f4f4f4" opacity="0.85"/>
<circle cx="498.3" cy="910.7" r="1" fill="#f4f4f4" opacity="0.85"/>
<circle cx="518.3" cy="910.0" r="1" fill="#f4f4f4" opacity="0.85"/>
<circle cx="505.0" cy="919.0" r="1" fill="#f4f4f4" opacity="0.85"/>
<circle cx="524.3" cy="932.7" r="1" fill="#f4f4f4" opacity="0.85"/>
<circle cx="568.3" cy="856.7" r="1.26" fill="#f4f4f4" opacity="0.9"/>
<circle cx="615.7" cy="842.3" r="1" fill="#f4f4f4" opacity="0.85"/>
<circle cx="627.7" cy="854.0" r="1" fill="#f4f4f4" opacity="0.85"/>
<circle cx="581.7" cy="755.0" r="1" fill="#f4f4f4" opacity="0.85"/>
<circle cx="624.3" cy="742.7" r="1" fill="#f4f4f4" opacity="0.85"/>
<circle cx="571.7" cy="740.0" r="1" fill="#f4f4f4" opacity="0.85"/>
<circle cx="612.7" cy="725.0" r="1" fill="#f4f4f4" opacity="0.85"/>
<circle cx="613.3" cy="778.3" r="1" fill="#f4f4f4" opacity="0.85"/>
<circle cx="638.3" cy="797.7" r="1" fill="#f4f4f4" opacity="0.85"/>
<circle cx="638.3" cy="909.3" r="1" fill="#f4f4f4" opacity="0.85"/>
<circle cx="589.3" cy="930.7" r="1" fill="#f4f4f4" opacity="0.85"/>
<circle cx="585.0" cy="976.0" r="1.26" fill="#f4f4f4" opacity="0.9"/>
<circle cx="611.7" cy="1001.7" r="1" fill="#f4f4f4" opacity="0.85"/>
<circle cx="596.7" cy="1004.3" r="1" fill="#f4f4f4" opacity="0.85"/>
<circle cx="638.3" cy="977.3" r="1" fill="#f4f4f4" opacity="0.85"/>
<circle cx="565.0" cy="1014.3" r="1" fill="#f4f4f4" opacity="0.85"/>
<circle cx="545.7" cy="1012.7" r="1" fill="#f4f4f4" opacity="0.85"/>
<circle cx="543.3" cy="1032.7" r="1" fill="#f4f4f4" opacity="0.85"/>
<circle cx="582.7" cy="1024.3" r="1" fill="#f4f4f4" opacity="0.85"/>
<circle cx="563.3" cy="1042.7" r="1" fill="#f4f4f4" opacity="0.85"/>
<circle cx="578.3" cy="1052.7" r="1" fill="#f4f4f4" opacity="0.85"/>
<circle cx="587.7" cy="1077.7" r="2.25" fill="url(#sg)"/>
<circle cx="585.0" cy="1065.0" r="1" fill="#f4f4f4" opacity="0.85"/>
<circle cx="632.3" cy="1066.7" r="1" fill="#f4f4f4" opacity="0.85"/>
<circle cx="495.0" cy="1044.3" r="1" fill="#f4f4f4" opacity="0.85"/>
<circle cx="477.7" cy="1055.0" r="1" fill="#f4f4f4" opacity="0.85"/>
<circle cx="464.0" cy="1016.0" r="1" fill="#f4f4f4" opacity="0.85"/>
<circle cx="476.0" cy="1004.3" r="1" fill="#f4f4f4" opacity="0.85"/>
<circle cx="438.3" cy="1002.7" r="1" fill="#f4f4f4" opacity="0.85"/>
<circle cx="416.7" cy="1006.7" r="1" fill="#f4f4f4" opacity="0.85"/>
<circle cx="458.3" cy="997.7" r="1" fill="#f4f4f4" opacity="0.85"/>
<circle cx="376.0" cy="992.7" r="1" fill="#f4f4f4" opacity="0.85"/>
<circle cx="370.0" cy="996.7" r="1" fill="#f4f4f4" opacity="0.85"/>
<circle cx="381.7" cy="967.3" r="1" fill="#f4f4f4" opacity="0.85"/>
<circle cx="353.3" cy="965.0" r="1" fill="#f4f4f4" opacity="0.85"/>
<circle cx="348.3" cy="962.3" r="1" fill="#f4f4f4" opacity="0.85"/>
<circle cx="326.7" cy="1021.7" r="1" fill="#f4f4f4" opacity="0.85"/>
<circle cx="332.7" cy="1036.7" r="1" fill="#f4f4f4" opacity="0.85"/>
<circle cx="340.0" cy="1041.7" r="1" fill="#f4f4f4" opacity="0.85"/>
<circle cx="350.7" cy="1053.3" r="1" fill="#f4f4f4" opacity="0.85"/>
<circle cx="273.3" cy="1055.7" r="1.26" fill="#f4f4f4" opacity="0.9"/>
<circle cx="240.0" cy="1043.3" r="1" fill="#f4f4f4" opacity="0.85"/>
<circle cx="215.0" cy="1046.7" r="1" fill="#f4f4f4" opacity="0.85"/>
<circle cx="205.7" cy="1021.0" r="1.26" fill="#f4f4f4" opacity="0.9"/>
<circle cx="249.3" cy="992.7" r="1" fill="#f4f4f4" opacity="0.85"/>
<circle cx="212.3" cy="977.7" r="1" fill="#f4f4f4" opacity="0.85"/>
<circle cx="219.0" cy="950.7" r="1" fill="#f4f4f4" opacity="0.85"/>
<circle cx="240.7" cy="946.0" r="1" fill="#f4f4f4" opacity="0.85"/>
<circle cx="161.0" cy="943.3" r="1" fill="#f4f4f4" opacity="0.85"/>
<circle cx="151.7" cy="957.7" r="1" fill="#f4f4f4" opacity="0.85"/>
<circle cx="126.7" cy="977.3" r="1" fill="#f4f4f4" opacity="0.85"/>
<circle cx="155.0" cy="997.3" r="1" fill="#f4f4f4" opacity="0.85"/>
<circle cx="126.7" cy="1003.3" r="1" fill="#f4f4f4" opacity="0.85"/>
<circle cx="95.0" cy="965.0" r="1" fill="#f4f4f4" opacity="0.85"/>
<circle cx="60.7" cy="966.7" r="1" fill="#f4f4f4" opacity="0.85"/>
<circle cx="47.3" cy="927.3" r="1" fill="#f4f4f4" opacity="0.85"/>
<circle cx="7.7" cy="931.0" r="1" fill="#f4f4f4" opacity="0.85"/>
<circle cx="1.0" cy="913.3" r="1" fill="#f4f4f4" opacity="0.85"/>
<circle cx="80.0" cy="1034.0" r="1" fill="#f4f4f4" opacity="0.85"/>
<circle cx="64.3" cy="1042.7" r="1" fill="#f4f4f4" opacity="0.85"/>
<circle cx="120.0" cy="1036.0" r="1" fill="#f4f4f4" opacity="0.85"/>
<circle cx="117.7" cy="1047.7" r="1" fill="#f4f4f4" opacity="0.85"/>
<circle cx="126.0" cy="1047.7" r="1" fill="#f4f4f4" opacity="0.85"/>
<circle cx="166.7" cy="1035.0" r="1" fill="#f4f4f4" opacity="0.85"/>
<circle cx="56.0" cy="1068.3" r="1" fill="#f4f4f4" opacity="0.85"/>
<circle cx="66.7" cy="1072.7" r="1" fill="#f4f4f4" opacity="0.85"/>
<circle cx="281.7" cy="962.3" r="1" fill="#f4f4f4" opacity="0.85"/>
<circle cx="381.0" cy="804.0" r="1" fill="#f4f4f4" opacity="0.85"/>
<circle cx="701.7" cy="824.3" r="4.20" fill="url(#sg)"/>
<circle cx="953.3" cy="1065.0" r="3.75" fill="url(#sg)"/>
<circle cx="860.7" cy="887.3" r="2.70" fill="url(#sg)"/>
<circle cx="886.7" cy="986.0" r="2.25" fill="url(#sg)"/>
<circle cx="1053.3" cy="760.7" r="2.70" fill="url(#sg)"/>
<circle cx="830.0" cy="937.3" r="2.25" fill="url(#sg)"/>
<circle cx="771.7" cy="960.0" r="1.37" fill="#f4f4f4" opacity="0.9"/>
<circle cx="681.0" cy="785.0" r="2.25" fill="url(#sg)"/>
<circle cx="675.0" cy="753.3" r="1.26" fill="#f4f4f4" opacity="0.9"/>
<circle cx="698.3" cy="1061.7" r="2.25" fill="url(#sg)"/>
<circle cx="740.0" cy="1061.7" r="1.37" fill="#f4f4f4" opacity="0.9"/>
<circle cx="996.0" cy="1004.3" r="1.26" fill="#f4f4f4" opacity="0.9"/>
<circle cx="1067.7" cy="890.7" r="1.37" fill="#f4f4f4" opacity="0.9"/>
<circle cx="1086.0" cy="863.3" r="1.26" fill="#f4f4f4" opacity="0.9"/>
<circle cx="1113.3" cy="819.0" r="1.26" fill="#f4f4f4" opacity="0.9"/>
<circle cx="1147.3" cy="882.3" r="1.26" fill="#f4f4f4" opacity="0.9"/>
<circle cx="1175.7" cy="894.3" r="1" fill="#f4f4f4" opacity="0.85"/>
<circle cx="1194.0" cy="931.0" r="1.26" fill="#f4f4f4" opacity="0.9"/>
<circle cx="1130.0" cy="838.3" r="1" fill="#f4f4f4" opacity="0.85"/>
<circle cx="1133.3" cy="836.7" r="1" fill="#f4f4f4" opacity="0.85"/>
<circle cx="1179.3" cy="801.7" r="1" fill="#f4f4f4" opacity="0.85"/>
<circle cx="1205.7" cy="815.7" r="1" fill="#f4f4f4" opacity="0.85"/>
<circle cx="1233.3" cy="834.0" r="1" fill="#f4f4f4" opacity="0.85"/>
<circle cx="1192.3" cy="770.0" r="1" fill="#f4f4f4" opacity="0.85"/>
<circle cx="1160.0" cy="760.0" r="1" fill="#f4f4f4" opacity="0.85"/>
<circle cx="1141.7" cy="758.3" r="1" fill="#f4f4f4" opacity="0.85"/>
<circle cx="1070.0" cy="943.3" r="1" fill="#f4f4f4" opacity="0.85"/>
<circle cx="1160.0" cy="941.7" r="1" fill="#f4f4f4" opacity="0.85"/>
<circle cx="1164.3" cy="913.3" r="1" fill="#f4f4f4" opacity="0.85"/>
<circle cx="1155.0" cy="907.3" r="1" fill="#f4f4f4" opacity="0.85"/>
<circle cx="1145.0" cy="926.7" r="1" fill="#f4f4f4" opacity="0.85"/>
<circle cx="1062.7" cy="864.0" r="1" fill="#f4f4f4" opacity="0.85"/>
<circle cx="1036.7" cy="721.0" r="1" fill="#f4f4f4" opacity="0.85"/>
<circle cx="991.7" cy="740.0" r="1" fill="#f4f4f4" opacity="0.85"/>
<circle cx="953.3" cy="753.3" r="1" fill="#f4f4f4" opacity="0.85"/>
<circle cx="929.3" cy="735.0" r="1" fill="#f4f4f4" opacity="0.85"/>
<circle cx="904.0" cy="816.7" r="1" fill="#f4f4f4" opacity="0.85"/>
<circle cx="924.3" cy="839.0" r="1" fill="#f4f4f4" opacity="0.85"/>
<circle cx="969.3" cy="851.7" r="1" fill="#f4f4f4" opacity="0.85"/>
<circle cx="941.7" cy="947.7" r="1" fill="#f4f4f4" opacity="0.85"/>
<circle cx="972.7" cy="989.0" r="1" fill="#f4f4f4" opacity="0.85"/>
<circle cx="987.7" cy="1021.0" r="1" fill="#f4f4f4" opacity="0.85"/>
<circle cx="866.0" cy="870.0" r="1" fill="#f4f4f4" opacity="0.85"/>
<circle cx="846.7" cy="917.7" r="1" fill="#f4f4f4" opacity="0.85"/>
<circle cx="867.7" cy="930.0" r="1" fill="#f4f4f4" opacity="0.85"/>
<circle cx="816.7" cy="949.3" r="1" fill="#f4f4f4" opacity="0.85"/>
<circle cx="801.0" cy="962.7" r="1" fill="#f4f4f4" opacity="0.85"/>
<circle cx="788.3" cy="970.0" r="1" fill="#f4f4f4" opacity="0.85"/>
<circle cx="719.0" cy="979.0" r="1" fill="#f4f4f4" opacity="0.85"/>
<circle cx="715.0" cy="951.0" r="1" fill="#f4f4f4" opacity="0.85"/>
<circle cx="690.7" cy="962.3" r="1" fill="#f4f4f4" opacity="0.85"/>
<circle cx="656.0" cy="882.3" r="1" fill="#f4f4f4" opacity="0.85"/>
<circle cx="673.3" cy="887.7" r="1" fill="#f4f4f4" opacity="0.85"/>
<circle cx="656.7" cy="895.0" r="1" fill="#f4f4f4" opacity="0.85"/>
<circle cx="641.7" cy="797.7" r="1" fill="#f4f4f4" opacity="0.85"/>
<circle cx="699.3" cy="779.3" r="1" fill="#f4f4f4" opacity="0.85"/>
<circle cx="709.0" cy="842.7" r="1" fill="#f4f4f4" opacity="0.85"/>
<circle cx="704.3" cy="851.0" r="1" fill="#f4f4f4" opacity="0.85"/>
<circle cx="730.7" cy="901.0" r="1" fill="#f4f4f4" opacity="0.85"/>
<circle cx="826.7" cy="783.3" r="1" fill="#f4f4f4" opacity="0.85"/>
<circle cx="853.3" cy="753.3" r="1" fill="#f4f4f4" opacity="0.85"/>
<circle cx="834.0" cy="1015.0" r="1" fill="#f4f4f4" opacity="0.85"/>
<circle cx="820.0" cy="1052.3" r="1" fill="#f4f4f4" opacity="0.85"/>
<circle cx="665.0" cy="1055.7" r="1" fill="#f4f4f4" opacity="0.85"/>
<circle cx="1068.3" cy="1005.0" r="1" fill="#f4f4f4" opacity="0.85"/>
<circle cx="1065.0" cy="1013.3" r="1" fill="#f4f4f4" opacity="0.85"/>
<circle cx="1098.3" cy="992.3" r="1" fill="#f4f4f4" opacity="0.85"/>
<circle cx="1076.0" cy="1043.3" r="1" fill="#f4f4f4" opacity="0.85"/>
<circle cx="1138.3" cy="1046.7" r="1" fill="#f4f4f4" opacity="0.85"/>
<circle cx="1188.3" cy="1030.0" r="1" fill="#f4f4f4" opacity="0.85"/>
<circle cx="1215.0" cy="1030.0" r="1" fill="#f4f4f4" opacity="0.85"/>
<circle cx="1193.3" cy="1068.3" r="1" fill="#f4f4f4" opacity="0.85"/>
<circle cx="1138.3" cy="1010.0" r="1" fill="#f4f4f4" opacity="0.85"/>
<circle cx="1172.3" cy="997.3" r="1" fill="#f4f4f4" opacity="0.85"/>
<circle cx="1266.7" cy="1078.3" r="1" fill="#f4f4f4" opacity="0.85"/>
<circle cx="1001.7" cy="1065.0" r="1" fill="#f4f4f4" opacity="0.85"/>
<circle cx="973.3" cy="1069.0" r="1" fill="#f4f4f4" opacity="0.85"/>
<circle cx="1215.0" cy="985.0" r="1" fill="#f4f4f4" opacity="0.85"/>
<circle cx="1185.0" cy="848.3" r="1" fill="#f4f4f4" opacity="0.85"/>
<circle cx="1740.0" cy="934.0" r="4.50" fill="url(#sg)"/>
<circle cx="1735.0" cy="916.7" r="3.00" fill="url(#sg)"/>
<circle cx="1698.3" cy="975.0" r="3.00" fill="url(#sg)"/>
<circle cx="1702.7" cy="976.0" r="3.00" fill="url(#sg)"/>
<circle cx="1875.0" cy="955.7" r="2.70" fill="url(#sg)"/>
<circle cx="1766.7" cy="1009.3" r="2.25" fill="url(#sg)"/>
<circle cx="1771.7" cy="1019.3" r="1.37" fill="#f4f4f4" opacity="0.9"/>
<circle cx="1845.7" cy="1014.0" r="1.37" fill="#f4f4f4" opacity="0.9"/>
<circle cx="1456.7" cy="992.3" r="2.25" fill="url(#sg)"/>
<circle cx="1431.0" cy="1041.7" r="2.25" fill="url(#sg)"/>
<circle cx="1407.7" cy="922.7" r="1.37" fill="#f4f4f4" opacity="0.9"/>
<circle cx="1428.3" cy="871.0" r="1.37" fill="#f4f4f4" opacity="0.9"/>
<circle cx="1429.0" cy="836.0" r="1.26" fill="#f4f4f4" opacity="0.9"/>
<circle cx="1422.7" cy="814.3" r="1" fill="#f4f4f4" opacity="0.85"/>
<circle cx="1363.3" cy="872.7" r="1.26" fill="#f4f4f4" opacity="0.9"/>
<circle cx="1393.3" cy="894.3" r="1" fill="#f4f4f4" opacity="0.85"/>
<circle cx="1367.3" cy="944.3" r="1" fill="#f4f4f4" opacity="0.85"/>
<circle cx="1341.0" cy="892.7" r="1" fill="#f4f4f4" opacity="0.85"/>
<circle cx="1442.3" cy="955.0" r="1" fill="#f4f4f4" opacity="0.85"/>
<circle cx="1492.3" cy="937.7" r="1" fill="#f4f4f4" opacity="0.85"/>
<circle cx="1607.3" cy="950.0" r="1" fill="#f4f4f4" opacity="0.85"/>
<circle cx="1660.0" cy="966.7" r="1" fill="#f4f4f4" opacity="0.85"/>
<circle cx="1614.3" cy="1006.7" r="1" fill="#f4f4f4" opacity="0.85"/>
<circle cx="1602.7" cy="1033.3" r="1" fill="#f4f4f4" opacity="0.85"/>
<circle cx="1640.0" cy="1033.3" r="1" fill="#f4f4f4" opacity="0.85"/>
<circle cx="1688.3" cy="1021.7" r="1" fill="#f4f4f4" opacity="0.85"/>
<circle cx="1690.0" cy="1060.0" r="1" fill="#f4f4f4" opacity="0.85"/>
<circle cx="1785.0" cy="1075.0" r="1" fill="#f4f4f4" opacity="0.85"/>
<circle cx="1846.7" cy="1039.0" r="1" fill="#f4f4f4" opacity="0.85"/>
<circle cx="1918.3" cy="1025.0" r="1" fill="#f4f4f4" opacity="0.85"/>
<circle cx="1890.0" cy="959.3" r="1" fill="#f4f4f4" opacity="0.85"/>
<circle cx="1896.0" cy="958.3" r="1" fill="#f4f4f4" opacity="0.85"/>
<circle cx="1811.0" cy="919.3" r="1" fill="#f4f4f4" opacity="0.85"/>
<circle cx="1697.7" cy="915.7" r="1" fill="#f4f4f4" opacity="0.85"/>
<circle cx="1636.0" cy="892.7" r="1" fill="#f4f4f4" opacity="0.85"/>
<circle cx="1725.7" cy="940.0" r="1" fill="#f4f4f4" opacity="0.85"/>
<circle cx="1679.3" cy="880.0" r="1" fill="#f4f4f4" opacity="0.85"/>
<circle cx="1711.0" cy="873.3" r="1" fill="#f4f4f4" opacity="0.85"/>
<circle cx="1680.0" cy="1046.7" r="1" fill="#f4f4f4" opacity="0.85"/>
<circle cx="1916.7" cy="1063.3" r="1" fill="#f4f4f4" opacity="0.85"/>
<circle cx="1348.3" cy="936.7" r="1" fill="#f4f4f4" opacity="0.85"/>
<circle cx="1341.7" cy="1046.7" r="1" fill="#f4f4f4" opacity="0.85"/>
<circle cx="1301.7" cy="1061.7" r="1" fill="#f4f4f4" opacity="0.85"/>
<circle cx="1418.3" cy="1053.3" r="1" fill="#f4f4f4" opacity="0.85"/>
<circle cx="1445.0" cy="1070.0" r="1" fill="#f4f4f4" opacity="0.85"/>
<circle cx="1519.3" cy="851.7" r="1" fill="#f4f4f4" opacity="0.85"/>
<circle cx="1552.7" cy="833.3" r="1" fill="#f4f4f4" opacity="0.85"/>
<circle cx="1466.7" cy="839.0" r="1" fill="#f4f4f4" opacity="0.85"/>
<circle cx="1357.7" cy="850.0" r="1" fill="#f4f4f4" opacity="0.85"/>
<circle cx="1345.0" cy="838.3" r="1" fill="#f4f4f4" opacity="0.85"/>
<circle cx="1323.3" cy="799.0" r="1" fill="#f4f4f4" opacity="0.85"/>
<circle cx="1346.7" cy="964.3" r="1" fill="#f4f4f4" opacity="0.85"/>
<circle cx="1329.3" cy="942.7" r="1" fill="#f4f4f4" opacity="0.85"/>
<circle cx="1577.7" cy="1068.3" r="1" fill="#f4f4f4" opacity="0.85"/>
<circle cx="1648.3" cy="1078.3" r="1" fill="#f4f4f4" opacity="0.85"/>
<circle cx="707.7" cy="379.0" r="1.26" fill="#f4f4f4" opacity="0.9"/>
<circle cx="661.7" cy="395.7" r="1" fill="#f4f4f4" opacity="0.85"/>
<circle cx="675.7" cy="403.3" r="1" fill="#f4f4f4" opacity="0.85"/>
<circle cx="675.0" cy="423.3" r="1" fill="#f4f4f4" opacity="0.85"/>
<circle cx="656.0" cy="428.3" r="1" fill="#f4f4f4" opacity="0.85"/>
<circle cx="886.7" cy="382.7" r="1" fill="#f4f4f4" opacity="0.85"/>
<circle cx="781.7" cy="394.3" r="1" fill="#f4f4f4" opacity="0.85"/>
<circle cx="974.3" cy="372.3" r="1" fill="#f4f4f4" opacity="0.85"/>
<circle cx="653.3" cy="634.0" r="1" fill="#f4f4f4" opacity="0.85"/>
<circle cx="668.3" cy="638.3" r="1" fill="#f4f4f4" opacity="0.85"/>
<circle cx="650.0" cy="665.7" r="1" fill="#f4f4f4" opacity="0.85"/>
<circle cx="666.7" cy="680.0" r="1" fill="#f4f4f4" opacity="0.85"/>
<circle cx="682.7" cy="659.0" r="1" fill="#f4f4f4" opacity="0.85"/>
<circle cx="703.3" cy="668.3" r="1" fill="#f4f4f4" opacity="0.85"/>
<circle cx="777.7" cy="664.3" r="1.26" fill="#f4f4f4" opacity="0.9"/>
<circle cx="648.3" cy="696.7" r="1.26" fill="#f4f4f4" opacity="0.9"/>
<circle cx="862.3" cy="711.7" r="2.25" fill="url(#sg)"/>
<circle cx="848.3" cy="703.3" r="1" fill="#f4f4f4" opacity="0.85"/>
<circle cx="791.7" cy="693.3" r="1" fill="#f4f4f4" opacity="0.85"/>
<circle cx="881.7" cy="718.3" r="1" fill="#f4f4f4" opacity="0.85"/>
<circle cx="155.7" cy="641.6" r="0.5" fill="#fff" opacity="0.28"/>
<circle cx="75.8" cy="513.4" r="0.5" fill="#fff" opacity="0.66"/>
<circle cx="227.6" cy="643.1" r="0.8" fill="#fff" opacity="0.28"/>
<circle cx="321.2" cy="617.4" r="0.5" fill="#fff" opacity="0.68"/>
<circle cx="101.6" cy="432.0" r="0.5" fill="#fff" opacity="0.51"/>
<circle cx="60.5" cy="652.6" r="0.5" fill="#fff" opacity="0.50"/>
<circle cx="297.1" cy="645.1" r="0.5" fill="#fff" opacity="0.51"/>
<circle cx="56.6" cy="484.0" r="0.5" fill="#fff" opacity="0.51"/>
<circle cx="119.4" cy="441.0" r="0.5" fill="#fff" opacity="0.50"/>
<circle cx="99.2" cy="444.8" r="0.8" fill="#fff" opacity="0.60"/>
<circle cx="31.5" cy="581.1" r="0.7" fill="#fff" opacity="0.38"/>
<circle cx="249.3" cy="388.2" r="0.6" fill="#fff" opacity="0.29"/>
<circle cx="160.2" cy="680.1" r="0.7" fill="#fff" opacity="0.58"/>
<circle cx="162.1" cy="719.5" r="0.5" fill="#fff" opacity="0.48"/>
<circle cx="271.3" cy="655.1" r="0.8" fill="#fff" opacity="0.44"/>
<circle cx="303.7" cy="519.0" r="0.7" fill="#fff" opacity="0.40"/>
<circle cx="120.0" cy="659.7" r="0.8" fill="#fff" opacity="0.28"/>
<circle cx="307.4" cy="611.3" r="0.5" fill="#fff" opacity="0.28"/>
<circle cx="157.9" cy="393.3" r="0.8" fill="#fff" opacity="0.38"/>
<circle cx="85.5" cy="647.3" r="0.5" fill="#fff" opacity="0.67"/>
<circle cx="110.3" cy="664.4" r="0.8" fill="#fff" opacity="0.28"/>
<circle cx="217.3" cy="435.9" r="0.6" fill="#fff" opacity="0.43"/>
<circle cx="330.1" cy="470.9" r="0.6" fill="#fff" opacity="0.45"/>
<circle cx="38.6" cy="489.6" r="0.8" fill="#fff" opacity="0.64"/>
<circle cx="180.6" cy="677.9" r="0.7" fill="#fff" opacity="0.56"/>
<circle cx="118.0" cy="624.2" r="0.5" fill="#fff" opacity="0.33"/>
<circle cx="218.5" cy="661.5" r="0.8" fill="#fff" opacity="0.62"/>
<circle cx="256.3" cy="656.2" r="0.6" fill="#fff" opacity="0.44"/>
<circle cx="102.6" cy="653.1" r="0.6" fill="#fff" opacity="0.56"/>
<circle cx="51.2" cy="528.0" r="0.5" fill="#fff" opacity="0.46"/>
<circle cx="328.8" cy="412.8" r="0.8" fill="#fff" opacity="0.43"/>
<circle cx="92.4" cy="631.3" r="0.8" fill="#fff" opacity="0.28"/>
<circle cx="311.4" cy="590.9" r="0.6" fill="#fff" opacity="0.30"/>
<circle cx="120.6" cy="481.1" r="0.6" fill="#fff" opacity="0.49"/>
<circle cx="351.4" cy="494.4" r="0.5" fill="#fff" opacity="0.64"/>
<circle cx="122.1" cy="470.7" r="0.7" fill="#fff" opacity="0.68"/>
<circle cx="91.0" cy="457.7" r="0.5" fill="#fff" opacity="0.63"/>
<circle cx="346.6" cy="536.9" r="0.8" fill="#fff" opacity="0.39"/>
<circle cx="306.8" cy="672.8" r="0.7" fill="#fff" opacity="0.47"/>
<circle cx="153.0" cy="406.5" r="0.6" fill="#fff" opacity="0.68"/>
<circle cx="96.9" cy="523.6" r="0.5" fill="#fff" opacity="0.59"/>
<circle cx="158.4" cy="692.5" r="0.5" fill="#fff" opacity="0.56"/>
<circle cx="195.7" cy="675.3" r="0.6" fill="#fff" opacity="0.41"/>
<circle cx="230.2" cy="689.1" r="0.7" fill="#fff" opacity="0.54"/>
<circle cx="77.9" cy="433.4" r="0.6" fill="#fff" opacity="0.61"/>
<circle cx="273.3" cy="393.7" r="0.6" fill="#fff" opacity="0.34"/>
<circle cx="41.7" cy="550.4" r="0.5" fill="#fff" opacity="0.61"/>
<circle cx="91.7" cy="563.0" r="0.7" fill="#fff" opacity="0.45"/>
<circle cx="373.1" cy="472.8" r="0.7" fill="#fff" opacity="0.29"/>
<circle cx="318.8" cy="628.0" r="0.7" fill="#fff" opacity="0.34"/>
<circle cx="79.8" cy="419.3" r="0.5" fill="#fff" opacity="0.47"/>
<circle cx="108.4" cy="404.7" r="0.5" fill="#fff" opacity="0.63"/>
<circle cx="303.2" cy="635.1" r="0.6" fill="#fff" opacity="0.47"/>
<circle cx="277.9" cy="694.3" r="0.7" fill="#fff" opacity="0.29"/>
<circle cx="358.6" cy="489.0" r="0.8" fill="#fff" opacity="0.43"/>
<circle cx="359.0" cy="489.5" r="0.6" fill="#fff" opacity="0.70"/>
<circle cx="355.1" cy="569.2" r="0.8" fill="#fff" opacity="0.61"/>
<circle cx="308.6" cy="678.6" r="0.8" fill="#fff" opacity="0.55"/>
<circle cx="117.2" cy="663.2" r="0.6" fill="#fff" opacity="0.26"/>
<circle cx="254.8" cy="387.6" r="0.5" fill="#fff" opacity="0.49"/>
<circle cx="331.9" cy="486.8" r="0.6" fill="#fff" opacity="0.62"/>
<circle cx="234.4" cy="660.6" r="0.7" fill="#fff" opacity="0.48"/>
<circle cx="216.0" cy="414.8" r="0.8" fill="#fff" opacity="0.63"/>
<circle cx="357.3" cy="604.3" r="0.8" fill="#fff" opacity="0.55"/>
<circle cx="263.1" cy="408.9" r="0.6" fill="#fff" opacity="0.49"/>
<circle cx="112.0" cy="529.2" r="0.8" fill="#fff" opacity="0.60"/>
<circle cx="75.4" cy="437.8" r="0.6" fill="#fff" opacity="0.33"/>
<circle cx="44.2" cy="570.0" r="0.5" fill="#fff" opacity="0.40"/>
<circle cx="56.6" cy="525.8" r="0.5" fill="#fff" opacity="0.65"/>
<circle cx="312.6" cy="583.1" r="0.5" fill="#fff" opacity="0.60"/>
<circle cx="55.2" cy="535.7" r="0.5" fill="#fff" opacity="0.45"/>
<circle cx="94.6" cy="448.7" r="0.6" fill="#fff" opacity="0.56"/>
<circle cx="64.0" cy="586.5" r="0.8" fill="#fff" opacity="0.48"/>
<circle cx="207.2" cy="689.7" r="0.7" fill="#fff" opacity="0.67"/>
<circle cx="295.7" cy="470.6" r="0.8" fill="#fff" opacity="0.31"/>
<circle cx="305.8" cy="639.6" r="0.5" fill="#fff" opacity="0.55"/>
<circle cx="99.6" cy="594.0" r="0.7" fill="#fff" opacity="0.60"/>
<circle cx="293.3" cy="476.3" r="0.7" fill="#fff" opacity="0.31"/>
<circle cx="338.9" cy="421.6" r="0.6" fill="#fff" opacity="0.59"/>
<circle cx="350.2" cy="640.5" r="0.6" fill="#fff" opacity="0.70"/>
<circle cx="260.2" cy="446.1" r="0.8" fill="#fff" opacity="0.70"/>
<circle cx="91.7" cy="621.2" r="0.7" fill="#fff" opacity="0.39"/>
<circle cx="188.6" cy="450.3" r="0.8" fill="#fff" opacity="0.45"/>
<circle cx="333.4" cy="557.6" r="0.7" fill="#fff" opacity="0.48"/>
<circle cx="372.3" cy="614.5" r="0.6" fill="#fff" opacity="0.69"/>
<circle cx="302.0" cy="618.0" r="0.5" fill="#fff" opacity="0.66"/>
<circle cx="274.0" cy="693.3" r="0.8" fill="#fff" opacity="0.63"/>
<circle cx="124.6" cy="382.8" r="0.8" fill="#fff" opacity="0.32"/>
<circle cx="336.7" cy="469.7" r="0.7" fill="#fff" opacity="0.29"/>
<circle cx="354.8" cy="599.6" r="0.8" fill="#fff" opacity="0.65"/>
<circle cx="193.9" cy="636.1" r="0.5" fill="#fff" opacity="0.61"/>
<circle cx="354.5" cy="629.8" r="0.5" fill="#fff" opacity="0.37"/>
<circle cx="272.2" cy="607.4" r="0.8" fill="#fff" opacity="0.67"/>
<circle cx="192.9" cy="650.1" r="0.6" fill="#fff" opacity="0.67"/>
<circle cx="325.0" cy="519.5" r="0.6" fill="#fff" opacity="0.34"/>
<circle cx="156.9" cy="660.1" r="0.6" fill="#fff" opacity="0.38"/>
<circle cx="91.7" cy="542.9" r="0.7" fill="#fff" opacity="0.61"/>
<circle cx="301.4" cy="539.7" r="0.5" fill="#fff" opacity="0.58"/>
<circle cx="96.3" cy="506.9" r="0.8" fill="#fff" opacity="0.36"/>
<circle cx="55.8" cy="594.5" r="0.8" fill="#fff" opacity="0.55"/>
<circle cx="37.0" cy="493.2" r="0.7" fill="#fff" opacity="0.56"/>
<circle cx="334.5" cy="528.7" r="0.6" fill="#fff" opacity="0.43"/>
<circle cx="148.2" cy="623.7" r="0.6" fill="#fff" opacity="0.26"/>
<circle cx="81.9" cy="419.2" r="0.8" fill="#fff" opacity="0.32"/>
<circle cx="353.1" cy="630.0" r="0.7" fill="#fff" opacity="0.52"/>
<circle cx="170.6" cy="451.7" r="0.6" fill="#fff" opacity="0.32"/>
<circle cx="89.6" cy="583.9" r="0.7" fill="#fff" opacity="0.69"/>
<circle cx="89.8" cy="507.9" r="0.7" fill="#fff" opacity="0.35"/>
<circle cx="258.0" cy="661.3" r="0.5" fill="#fff" opacity="0.46"/>
<circle cx="89.2" cy="541.0" r="0.5" fill="#fff" opacity="0.29"/>
<circle cx="249.8" cy="443.1" r="0.5" fill="#fff" opacity="0.43"/>
<circle cx="157.3" cy="691.0" r="0.5" fill="#fff" opacity="0.51"/>
<circle cx="42.8" cy="512.9" r="0.8" fill="#fff" opacity="0.59"/>
<circle cx="178.6" cy="401.3" r="0.7" fill="#fff" opacity="0.58"/>
<circle cx="144.5" cy="466.8" r="0.8" fill="#fff" opacity="0.58"/>
<circle cx="246.5" cy="442.3" r="0.5" fill="#fff" opacity="0.62"/>
<circle cx="53.4" cy="454.6" r="0.6" fill="#fff" opacity="0.29"/>
<circle cx="355.8" cy="583.6" r="0.5" fill="#fff" opacity="0.42"/>
<circle cx="111.3" cy="572.5" r="0.5" fill="#fff" opacity="0.53"/>
<circle cx="144.3" cy="412.7" r="0.5" fill="#fff" opacity="0.46"/>
<circle cx="366.3" cy="619.0" r="0.5" fill="#fff" opacity="0.55"/>
<circle cx="355.0" cy="609.1" r="0.7" fill="#fff" opacity="0.61"/>
<circle cx="272.8" cy="444.7" r="0.6" fill="#fff" opacity="0.35"/>
<circle cx="122.0" cy="428.8" r="0.8" fill="#fff" opacity="0.28"/>
<circle cx="310.6" cy="476.4" r="0.5" fill="#fff" opacity="0.53"/>
<circle cx="141.6" cy="463.6" r="0.6" fill="#fff" opacity="0.40"/>
<circle cx="111.9" cy="412.2" r="0.6" fill="#fff" opacity="0.26"/>
<circle cx="319.2" cy="588.7" r="0.5" fill="#fff" opacity="0.56"/>
<circle cx="148.7" cy="431.2" r="0.7" fill="#fff" opacity="0.46"/>
<circle cx="100.8" cy="565.4" r="0.6" fill="#fff" opacity="0.39"/>
<circle cx="327.1" cy="616.1" r="0.7" fill="#fff" opacity="0.46"/>
<circle cx="281.9" cy="379.4" r="0.8" fill="#fff" opacity="0.70"/>
<circle cx="70.7" cy="658.6" r="0.6" fill="#fff" opacity="0.28"/>
<circle cx="343.9" cy="631.5" r="0.7" fill="#fff" opacity="0.68"/>
<circle cx="319.5" cy="669.0" r="0.7" fill="#fff" opacity="0.65"/>
<circle cx="170.6" cy="429.0" r="0.8" fill="#fff" opacity="0.43"/>
<circle cx="302.1" cy="694.0" r="0.8" fill="#fff" opacity="0.43"/>
<circle cx="185.4" cy="407.2" r="0.8" fill="#fff" opacity="0.39"/>
<circle cx="254.3" cy="465.6" r="0.7" fill="#fff" opacity="0.63"/>
<circle cx="334.6" cy="664.8" r="0.5" fill="#fff" opacity="0.66"/>
<circle cx="172.0" cy="672.0" r="0.8" fill="#fff" opacity="0.43"/>
<circle cx="274.4" cy="469.0" r="0.8" fill="#fff" opacity="0.59"/>
<circle cx="280.7" cy="444.5" r="0.5" fill="#fff" opacity="0.63"/>
<circle cx="165.4" cy="717.1" r="0.6" fill="#fff" opacity="0.69"/>
<circle cx="87.4" cy="592.8" r="0.7" fill="#fff" opacity="0.60"/>
<circle cx="119.3" cy="584.8" r="0.8" fill="#fff" opacity="0.66"/>
<circle cx="343.7" cy="488.8" r="0.5" fill="#fff" opacity="0.27"/>
<circle cx="189.5" cy="403.5" r="0.6" fill="#fff" opacity="0.54"/>
<circle cx="182.9" cy="638.5" r="0.6" fill="#fff" opacity="0.33"/>
<circle cx="98.1" cy="606.4" r="0.7" fill="#fff" opacity="0.58"/>
<circle cx="325.7" cy="524.9" r="0.6" fill="#fff" opacity="0.39"/>
<circle cx="78.5" cy="495.4" r="0.6" fill="#fff" opacity="0.54"/>
<circle cx="333.9" cy="608.8" r="0.8" fill="#fff" opacity="0.50"/>
<circle cx="81.3" cy="580.7" r="0.8" fill="#fff" opacity="0.44"/>
<circle cx="90.0" cy="507.4" r="0.6" fill="#fff" opacity="0.40"/>
<circle cx="305.8" cy="607.9" r="0.7" fill="#fff" opacity="0.61"/>
<circle cx="232.9" cy="633.0" r="0.8" fill="#fff" opacity="0.42"/>
<circle cx="201.9" cy="426.2" r="0.7" fill="#fff" opacity="0.40"/>
<circle cx="319.6" cy="590.1" r="0.7" fill="#fff" opacity="0.31"/>
<circle cx="49.5" cy="539.7" r="0.6" fill="#fff" opacity="0.29"/>
<circle cx="312.0" cy="461.9" r="0.8" fill="#fff" opacity="0.44"/>
<circle cx="140.5" cy="700.1" r="0.5" fill="#fff" opacity="0.31"/>
<circle cx="57.0" cy="618.2" r="0.8" fill="#fff" opacity="0.69"/>
<circle cx="104.2" cy="549.5" r="0.8" fill="#fff" opacity="0.69"/>
<circle cx="206.0" cy="648.4" r="0.6" fill="#fff" opacity="0.32"/>
<circle cx="308.8" cy="524.5" r="0.8" fill="#fff" opacity="0.29"/>
<circle cx="220.4" cy="452.6" r="0.6" fill="#fff" opacity="0.35"/>
<circle cx="342.4" cy="467.4" r="0.7" fill="#fff" opacity="0.68"/>
<circle cx="101.9" cy="438.0" r="0.8" fill="#fff" opacity="0.56"/>
<circle cx="281.7" cy="608.2" r="0.6" fill="#fff" opacity="0.42"/>
<circle cx="230.3" cy="694.1" r="0.5" fill="#fff" opacity="0.49"/>
<circle cx="328.9" cy="540.2" r="0.7" fill="#fff" opacity="0.54"/>
<circle cx="311.2" cy="447.9" r="0.6" fill="#fff" opacity="0.50"/>
<circle cx="339.5" cy="568.0" r="0.7" fill="#fff" opacity="0.27"/>
<circle cx="265.2" cy="707.2" r="0.8" fill="#fff" opacity="0.29"/>
<circle cx="224.1" cy="679.6" r="0.7" fill="#fff" opacity="0.35"/>
<circle cx="331.9" cy="570.6" r="0.8" fill="#fff" opacity="0.41"/>
<circle cx="131.5" cy="599.0" r="0.7" fill="#fff" opacity="0.58"/>
<circle cx="88.8" cy="539.4" r="0.6" fill="#fff" opacity="0.39"/>
<circle cx="255.7" cy="435.3" r="0.6" fill="#fff" opacity="0.37"/>
<circle cx="285.9" cy="475.5" r="0.8" fill="#fff" opacity="0.52"/>
<circle cx="319.1" cy="456.2" r="0.5" fill="#fff" opacity="0.68"/>
<circle cx="286.9" cy="650.5" r="0.6" fill="#fff" opacity="0.26"/>
<circle cx="92.1" cy="465.1" r="0.5" fill="#fff" opacity="0.33"/>
<circle cx="51.0" cy="593.4" r="0.7" fill="#fff" opacity="0.58"/>
<circle cx="383.2" cy="540.2" r="0.7" fill="#fff" opacity="0.34"/>
<circle cx="120.6" cy="422.9" r="0.8" fill="#fff" opacity="0.26"/>
<circle cx="136.5" cy="428.1" r="0.7" fill="#fff" opacity="0.69"/>
<circle cx="106.4" cy="580.3" r="0.5" fill="#fff" opacity="0.38"/>
<circle cx="97.9" cy="687.6" r="0.5" fill="#fff" opacity="0.50"/>
<circle cx="212.4" cy="409.3" r="0.7" fill="#fff" opacity="0.62"/>
<circle cx="115.7" cy="583.4" r="0.8" fill="#fff" opacity="0.34"/>
<circle cx="69.8" cy="506.9" r="0.7" fill="#fff" opacity="0.41"/>
<circle cx="281.2" cy="485.4" r="0.8" fill="#fff" opacity="0.36"/>
<circle cx="109.0" cy="446.5" r="0.8" fill="#fff" opacity="0.27"/>
<circle cx="368.9" cy="611.0" r="0.7" fill="#fff" opacity="0.34"/>
<circle cx="346.7" cy="602.1" r="0.7" fill="#fff" opacity="0.37"/>
<circle cx="354.1" cy="502.4" r="0.7" fill="#fff" opacity="0.59"/>
<circle cx="139.1" cy="377.9" r="0.7" fill="#fff" opacity="0.25"/>
<circle cx="211.3" cy="365.9" r="0.5" fill="#fff" opacity="0.26"/>
<circle cx="219.4" cy="684.8" r="0.8" fill="#fff" opacity="0.68"/>
<circle cx="113.4" cy="622.3" r="0.8" fill="#fff" opacity="0.62"/>
<circle cx="302.0" cy="649.9" r="0.5" fill="#fff" opacity="0.61"/>
<circle cx="192.7" cy="373.0" r="0.6" fill="#fff" opacity="0.52"/>
<circle cx="144.9" cy="656.1" r="0.7" fill="#fff" opacity="0.60"/>
<circle cx="84.9" cy="460.6" r="0.8" fill="#fff" opacity="0.59"/>
<circle cx="206.7" cy="643.0" r="0.5" fill="#fff" opacity="0.47"/>
<circle cx="98.0" cy="512.2" r="0.8" fill="#fff" opacity="0.65"/>
<circle cx="327.2" cy="533.6" r="0.5" fill="#fff" opacity="0.34"/>
<circle cx="44.8" cy="629.7" r="0.8" fill="#fff" opacity="0.33"/>
<circle cx="299.8" cy="647.7" r="0.6" fill="#fff" opacity="0.59"/>
<circle cx="295.6" cy="413.2" r="0.5" fill="#fff" opacity="0.60"/>
<circle cx="171.2" cy="662.4" r="0.7" fill="#fff" opacity="0.42"/>
<circle cx="196.3" cy="427.7" r="0.6" fill="#fff" opacity="0.33"/>
<circle cx="216.3" cy="666.7" r="0.6" fill="#fff" opacity="0.40"/>
<circle cx="60.1" cy="653.9" r="0.6" fill="#fff" opacity="0.54"/>
<circle cx="319.2" cy="626.6" r="0.5" fill="#fff" opacity="0.30"/>
<circle cx="37.0" cy="569.9" r="0.8" fill="#fff" opacity="0.66"/>
<circle cx="326.5" cy="574.5" r="0.5" fill="#fff" opacity="0.27"/>
<circle cx="67.1" cy="442.2" r="0.6" fill="#fff" opacity="0.67"/>
<circle cx="84.4" cy="667.8" r="0.8" fill="#fff" opacity="0.52"/>
<circle cx="229.8" cy="386.6" r="0.5" fill="#fff" opacity="0.30"/>
<circle cx="77.7" cy="455.1" r="0.6" fill="#fff" opacity="0.27"/>
<circle cx="152.8" cy="625.2" r="0.7" fill="#fff" opacity="0.27"/>
<circle cx="185.3" cy="367.1" r="0.5" fill="#fff" opacity="0.62"/>
<circle cx="93.1" cy="615.0" r="0.7" fill="#fff" opacity="0.29"/>
<circle cx="346.5" cy="571.3" r="0.8" fill="#fff" opacity="0.28"/>
<circle cx="313.7" cy="623.5" r="0.6" fill="#fff" opacity="0.54"/>
<circle cx="298.9" cy="603.5" r="0.7" fill="#fff" opacity="0.43"/>
<circle cx="178.6" cy="667.1" r="0.5" fill="#fff" opacity="0.39"/>
<circle cx="84.6" cy="489.5" r="0.8" fill="#fff" opacity="0.26"/>
<circle cx="222.6" cy="375.0" r="0.6" fill="#fff" opacity="0.43"/>
<circle cx="57.0" cy="643.6" r="0.8" fill="#fff" opacity="0.66"/>
<circle cx="53.9" cy="621.5" r="0.8" fill="#fff" opacity="0.51"/>
<circle cx="95.0" cy="668.2" r="0.6" fill="#fff" opacity="0.26"/>
<circle cx="56.7" cy="493.2" r="0.8" fill="#fff" opacity="0.29"/>
<circle cx="109.3" cy="450.6" r="0.6" fill="#fff" opacity="0.32"/>
<circle cx="174.6" cy="686.3" r="0.5" fill="#fff" opacity="0.30"/>
<circle cx="36.2" cy="553.1" r="0.6" fill="#fff" opacity="0.39"/>
<circle cx="255.7" cy="460.0" r="0.8" fill="#fff" opacity="0.39"/>
<circle cx="83.3" cy="445.3" r="0.5" fill="#fff" opacity="0.66"/>
<circle cx="80.9" cy="426.0" r="0.6" fill="#fff" opacity="0.54"/>
<circle cx="301.1" cy="421.6" r="0.6" fill="#fff" opacity="0.62"/>
<circle cx="253.1" cy="650.4" r="0.8" fill="#fff" opacity="0.67"/>
<circle cx="278.1" cy="652.8" r="0.6" fill="#fff" opacity="0.36"/>
<circle cx="177.4" cy="369.4" r="0.5" fill="#fff" opacity="0.65"/>
<circle cx="292.2" cy="410.2" r="0.7" fill="#fff" opacity="0.30"/>
<circle cx="84.2" cy="455.8" r="0.7" fill="#fff" opacity="0.54"/>
<circle cx="161.7" cy="656.0" r="0.8" fill="#fff" opacity="0.55"/>
<circle cx="73.5" cy="588.7" r="0.5" fill="#fff" opacity="0.25"/>
<circle cx="346.1" cy="530.7" r="0.8" fill="#fff" opacity="0.59"/>
<circle cx="231.4" cy="404.5" r="0.6" fill="#fff" opacity="0.61"/>
<circle cx="123.7" cy="601.8" r="0.7" fill="#fff" opacity="0.44"/>
<circle cx="322.0" cy="619.0" r="0.5" fill="#fff" opacity="0.27"/>
<circle cx="326.3" cy="672.7" r="0.7" fill="#fff" opacity="0.60"/>
<circle cx="106.6" cy="535.9" r="0.8" fill="#fff" opacity="0.54"/>
<circle cx="225.3" cy="450.2" r="0.5" fill="#fff" opacity="0.70"/>
<circle cx="185.9" cy="374.2" r="0.6" fill="#fff" opacity="0.31"/>
<circle cx="299.1" cy="460.8" r="0.6" fill="#fff" opacity="0.56"/>
<circle cx="183.7" cy="426.9" r="0.7" fill="#fff" opacity="0.52"/>
<path d="M99,484 C85,472 68,462 62,450 C58,440 68,433 80,430 C90,427 98,420 104,412" fill="none" stroke="#7a2a0c" stroke-width="5" opacity="0.4" filter="url(#blur2)"/>
<circle cx="214" cy="540" r="150" fill="url(#glow)"/>
<circle cx="214" cy="540" r="127" fill="url(#sung)"/>
<g clip-path="url(#sunclip)">
<rect x="80" y="405" width="270" height="270" filter="url(#tex2)" opacity="0.7"/>
<rect x="80" y="405" width="270" height="270" filter="url(#tex)" opacity="0.75"/>
<rect x="80" y="405" width="270" height="270" filter="url(#tex3)" opacity="0.2"/>
<circle cx="214" cy="540" r="126" fill="none" stroke="#fff0a0" stroke-width="5" opacity="0.75" filter="url(#blur2)"/>
<g fill="#fff8d0" filter="url(#blur3)">
<ellipse cx="195" cy="531" rx="10" ry="7" opacity="0.85"/>
<ellipse cx="290" cy="518" rx="9" ry="6" opacity="0.8"/>
<ellipse cx="228" cy="481" rx="5" ry="4" opacity="0.8"/>
<ellipse cx="199" cy="596" rx="5" ry="4" opacity="0.7"/>
<ellipse cx="277" cy="546" rx="4" ry="4" opacity="0.6"/>
</g>
</g>
<path d="M478.5,188.0 L551.5,188.0 L551.5,371.0 L595.0,371.0 L515.0,451.0 L435.0,371.0 L478.5,371.0 Z" fill="url(#gd0)"/><path d="M478.5,889.0 L551.5,889.0 L551.5,706.0 L595.0,706.0 L515.0,626.0 L435.0,706.0 L478.5,706.0 Z" fill="url(#gu0)"/><path d="M732.3,133.5 L805.3,133.5 L805.3,315.5 L848.8,315.5 L768.8,395.5 L688.8,315.5 L732.3,315.5 Z" fill="url(#gd1)"/><path d="M732.3,943.5 L805.3,943.5 L805.3,761.5 L848.8,761.5 L768.8,681.5 L688.8,761.5 L732.3,761.5 Z" fill="url(#gu1)"/><path d="M986.1,76.0 L1059.1,76.0 L1059.1,260.0 L1102.6,260.0 L1022.6,340.0 L942.6,260.0 L986.1,260.0 Z" fill="url(#gd2)"/><path d="M986.1,1001.0 L1059.1,1001.0 L1059.1,817.0 L1102.6,817.0 L1022.6,737.0 L942.6,817.0 L986.1,817.0 Z" fill="url(#gu2)"/><path d="M1239.9,34.5 L1312.9,34.5 L1312.9,204.5 L1356.4,204.5 L1276.4,284.5 L1196.4,204.5 L1239.9,204.5 Z" fill="url(#gd3)"/><path d="M1239.9,1042.5 L1312.9,1042.5 L1312.9,872.5 L1356.4,872.5 L1276.4,792.5 L1196.4,872.5 L1239.9,872.5 Z" fill="url(#gu3)"/><path d="M1493.7,0.0 L1566.7,0.0 L1566.7,149.0 L1610.2,149.0 L1530.2,229.0 L1450.2,149.0 L1493.7,149.0 Z" fill="url(#gd4)"/><path d="M1493.7,1077.0 L1566.7,1077.0 L1566.7,928.0 L1610.2,928.0 L1530.2,848.0 L1450.2,928.0 L1493.7,928.0 Z" fill="url(#gu4)"/>
<path d="M390,502.0 L1920,166.0 L1920,906.9 L390,574.0 Z" fill="url(#wg)"/>
<path d="M390,533.0 L1920,464.0 L1920,610.0 L390,543.0 Z" fill="url(#mg)"/>
<path d="M732.5,586.3 C732.5,586.3 738.4,593.5 740.8,593.2 C743.0,592.9 744.5,589.4 746.4,585.6 C750.5,577.3 755.3,556.1 758.9,542.5 C762.1,530.3 764.0,515.4 767.2,507.8 C768.9,503.6 770.8,499.0 772.8,498.8 C774.5,498.7 776.5,501.7 778.3,505.0 C782.4,512.8 785.7,534.6 789.4,549.4 C793.1,564.2 795.6,583.4 800.6,593.9 C803.8,600.5 807.6,607.7 811.7,608.5 C815.1,609.2 819.7,604.6 822.8,602.2 C825.5,600.1 827.0,598.5 829.7,595.3 C834.4,589.7 841.1,579.1 847.4,570.3 C854.5,560.3 866.1,545.2 870.0,538.3 C871.7,535.3 873.4,534.1 873.0,531.4 C872.3,526.6 862.7,516.7 857.5,513.3 C853.8,510.9 850.1,509.3 846.4,509.9 C842.2,510.6 837.1,514.2 833.9,518.9 C829.2,525.6 827.7,539.2 825.6,549.4 C823.5,559.5 820.8,571.3 821.4,580.0 C821.8,586.5 822.3,593.3 826.0,597.0 C829.9,600.9 838.0,600.8 845.0,602.2 C853.3,603.9 863.6,604.9 872.8,605.7 C881.9,606.5 892.2,607.3 900.0,607.0 C905.8,606.8 910.2,606.7 915.3,605.0 C921.1,603.1 928.7,599.7 932.8,595.2 C936.5,591.1 938.4,585.8 939.6,579.7 C941.1,571.6 938.8,559.7 938.6,550.5 C938.5,542.3 936.1,531.8 938.6,527.2 C940.2,524.3 943.6,522.7 946.4,522.3 C949.4,521.9 952.1,523.3 956.1,525.3 C964.1,529.4 977.7,540.3 989.1,550.5 C1003.4,563.2 1028.0,588.3 1033.9,597.2 C1035.9,600.2 1037.5,602.2 1036.8,604.0 C1035.9,606.3 1030.5,607.1 1026.0,608.8 C1019.1,611.5 1005.7,617.5 998.9,617.6 C994.8,617.7 991.4,617.0 989.1,614.7 C986.4,612.0 985.9,606.7 985.3,601.0 C984.3,592.1 985.5,578.9 987.2,566.0 C989.4,549.8 994.0,528.5 998.9,511.6 C1003.3,496.3 1008.7,480.3 1014.4,468.9 C1018.6,460.6 1023.8,449.1 1028.0,448.5 C1030.7,448.1 1033.6,451.7 1035.8,455.3 C1039.8,461.9 1040.8,474.7 1043.6,488.3 C1048.0,510.1 1053.4,550.1 1058.1,574.1 C1061.5,591.5 1063.1,606.4 1068.3,619.0 C1072.5,629.4 1077.8,639.4 1084.6,645.4 C1090.4,650.5 1098.1,654.3 1105.0,654.6 C1111.7,654.9 1119.2,651.9 1125.4,647.4 C1133.1,641.8 1140.2,631.3 1145.8,621.0 C1152.1,609.3 1155.9,595.4 1160.0,580.2 C1165.0,561.6 1168.3,534.6 1172.2,517.0 C1175.0,504.3 1176.4,491.9 1180.4,484.4 C1183.0,479.6 1186.5,474.5 1189.6,474.3 C1192.6,474.1 1195.9,478.3 1198.7,482.4 C1203.4,489.3 1206.9,503.4 1211.0,515.0 C1215.7,528.3 1221.3,544.4 1225.2,557.8 C1228.6,569.3 1229.6,581.8 1233.4,590.4 C1236.2,596.7 1239.6,604.3 1243.6,605.7 C1246.6,606.8 1250.3,604.6 1253.7,602.6 C1258.4,599.8 1263.5,590.6 1268.0,588.4 C1270.9,587.0 1274.2,586.1 1276.2,587.3 C1278.6,588.8 1279.2,593.4 1280.2,598.5 C1282.1,608.4 1281.4,631.2 1282.3,643.4 C1282.9,651.8 1282.4,664.3 1284.3,664.8 C1285.7,665.1 1288.6,659.9 1290.4,655.6 C1293.8,647.6 1295.6,632.3 1298.6,619.0 C1302.2,603.2 1306.4,586.5 1310.7,567.0 C1316.3,542.0 1323.0,506.4 1328.9,481.5 C1333.5,462.0 1337.6,444.2 1342.3,429.6 C1345.8,418.6 1348.2,407.5 1353.3,401.1 C1357.1,396.4 1362.4,392.3 1367.0,392.0 C1371.4,391.7 1376.5,394.7 1380.5,398.5 C1386.1,403.9 1389.8,413.9 1394.5,424.4 C1401.2,439.5 1408.3,462.4 1414.8,481.5 C1421.3,500.5 1427.6,518.9 1433.5,538.5 C1439.6,559.0 1450.7,602.0 1450.7,602.0" fill="none" stroke="#5ac8f6" stroke-width="7" stroke-linejoin="round" stroke-linecap="round"/>
<circle cx="1458" cy="629.5" r="17" fill="#5ac8f6"/>
<g fill="#fff">
<path d="M1100,440 L1065,464" stroke="#fff" stroke-width="6"/>
<path d="M1052,473 L1062,455 L1072,469 Z"/>
<path d="M1282,438 L1312,458" stroke="#fff" stroke-width="6"/>
<path d="M1325,467 L1305,469 L1316,450 Z"/>
</g>
<g fill="#a45cf0" stroke="#a45cf0" stroke-width="1.5" font-size="42">
<text x="613.8" y="78" textLength="79.7" lengthAdjust="spacingAndGlyphs">Disk</text>
<text x="704" y="78" textLength="52.4" lengthAdjust="spacingAndGlyphs">UV</text>
<text x="766.9" y="78" textLength="195.2" lengthAdjust="spacingAndGlyphs">irradiation</text>
<text x="613.8" y="1040" textLength="79.7" lengthAdjust="spacingAndGlyphs">Disk</text>
<text x="704" y="1040" textLength="52.4" lengthAdjust="spacingAndGlyphs">UV</text>
<text x="766.9" y="1040" textLength="195.2" lengthAdjust="spacingAndGlyphs">irradiation</text>
</g>
<g fill="#fff" stroke="#fff" stroke-width="1.5" font-size="41">
<text x="1098.6" y="390" textLength="139.3" lengthAdjust="spacingAndGlyphs">Particle</text>
<text x="1100" y="436" textLength="178.5" lengthAdjust="spacingAndGlyphs">trajectory</text>
<text x="1634" y="299" textLength="119" lengthAdjust="spacingAndGlyphs">Highly</text>
<text x="1634" y="344" textLength="182.2" lengthAdjust="spacingAndGlyphs">irradiated</text>
<text x="1634" y="389" textLength="120.1" lengthAdjust="spacingAndGlyphs">region</text>
<text x="1634" y="728" textLength="119" lengthAdjust="spacingAndGlyphs">Highly</text>
<text x="1634" y="773" textLength="182.2" lengthAdjust="spacingAndGlyphs">irradiated</text>
<text x="1634" y="818" textLength="120.1" lengthAdjust="spacingAndGlyphs">region</text>
<text x="1560.5" y="552" textLength="79" lengthAdjust="spacingAndGlyphs">Disk</text>
<text x="1648.7" y="552" textLength="178.6" lengthAdjust="spacingAndGlyphs">midplane</text>
<text x="1369" y="680" textLength="194.5" lengthAdjust="spacingAndGlyphs">Ice-coated</text>
<text x="1370" y="726" textLength="96.4" lengthAdjust="spacingAndGlyphs">grain</text>
</g>
</svg>
</body></html>
